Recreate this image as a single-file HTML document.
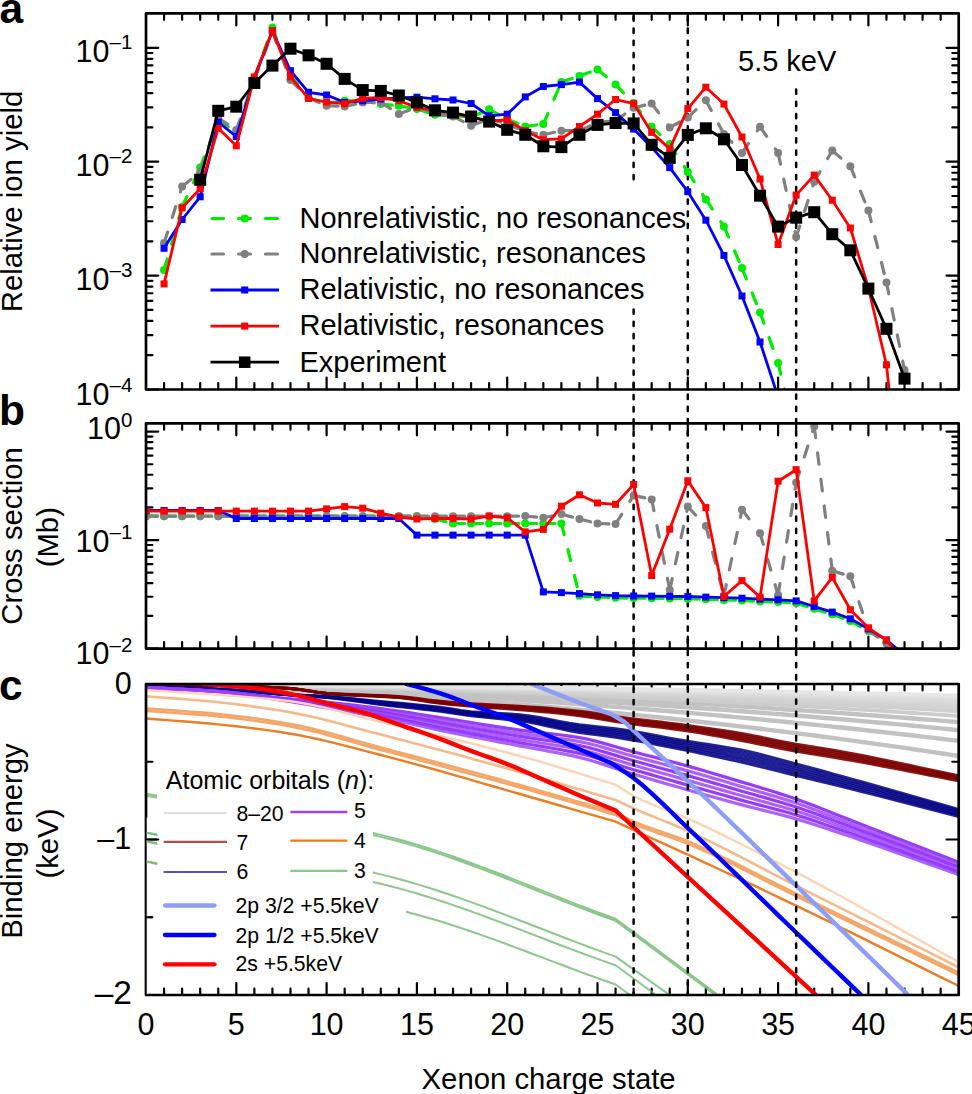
<!DOCTYPE html>
<html><head><meta charset="utf-8"><style>html,body{margin:0;padding:0;background:#fff;width:972px;height:1094px;overflow:hidden}</style></head>
<body>
<svg width="972" height="1094" viewBox="0 0 972 1094" style="position:absolute;left:0;top:0">
<defs>
<clipPath id="ca"><rect x="146" y="13.4" width="812.7" height="376.1"/></clipPath>
<clipPath id="cb"><rect x="146" y="423.3" width="812.7" height="225.3"/></clipPath>
<clipPath id="cc"><rect x="146" y="684" width="812.7" height="311"/></clipPath>
</defs>
<rect width="972" height="1094" fill="#fff"/>
<g stroke="#000" fill="none" stroke-width="2.2" stroke-linecap="round" stroke-linejoin="round"><path d="M164.06 684v6.4M164.06 995v-6.4M182.12 684v6.4M182.12 995v-6.4M200.18 684v6.4M200.18 995v-6.4M218.24 684v6.4M218.24 995v-6.4M236.3 684v12M236.3 995v-12M254.36 684v6.4M254.36 995v-6.4M272.42 684v6.4M272.42 995v-6.4M290.48 684v6.4M290.48 995v-6.4M308.54 684v6.4M308.54 995v-6.4M326.6 684v12M326.6 995v-12M344.66 684v6.4M344.66 995v-6.4M362.72 684v6.4M362.72 995v-6.4M380.78 684v6.4M380.78 995v-6.4M398.84 684v6.4M398.84 995v-6.4M416.9 684v12M416.9 995v-12M434.96 684v6.4M434.96 995v-6.4M453.02 684v6.4M453.02 995v-6.4M471.08 684v6.4M471.08 995v-6.4M489.14 684v6.4M489.14 995v-6.4M507.2 684v12M507.2 995v-12M525.26 684v6.4M525.26 995v-6.4M543.32 684v6.4M543.32 995v-6.4M561.38 684v6.4M561.38 995v-6.4M579.44 684v6.4M579.44 995v-6.4M597.5 684v12M597.5 995v-12M615.56 684v6.4M615.56 995v-6.4M633.62 684v6.4M633.62 995v-6.4M651.68 684v6.4M651.68 995v-6.4M669.74 684v6.4M669.74 995v-6.4M687.8 684v12M687.8 995v-12M705.86 684v6.4M705.86 995v-6.4M723.92 684v6.4M723.92 995v-6.4M741.98 684v6.4M741.98 995v-6.4M760.04 684v6.4M760.04 995v-6.4M778.1 684v12M778.1 995v-12M796.16 684v6.4M796.16 995v-6.4M814.22 684v6.4M814.22 995v-6.4M832.28 684v6.4M832.28 995v-6.4M850.34 684v6.4M850.34 995v-6.4M868.4 684v12M868.4 995v-12M886.46 684v6.4M886.46 995v-6.4M904.52 684v6.4M904.52 995v-6.4M922.58 684v6.4M922.58 995v-6.4M940.64 684v6.4M940.64 995v-6.4M146 684h12.2M958.7 684h-12.2M146 839.5h12.2M958.7 839.5h-12.2M146 995h12.2M958.7 995h-12.2M146 761.75h6.4M958.7 761.75h-6.4M146 917.25h6.4M958.7 917.25h-6.4"/></g>
<g clip-path="url(#cc)" fill="none" stroke-linejoin="round" stroke-linecap="butt">
<polyline points="146,685.3 155.03,685.53 164.06,685.74 173.09,685.96 182.12,686.18 191.15,686.41 200.18,686.66 209.21,686.93 218.24,687.22 227.27,687.52 236.3,687.84 245.33,688.16 254.36,688.5 263.39,688.85 272.42,689.22 281.45,689.6 290.48,689.99 299.51,690.4 308.54,690.82 317.57,691.25 326.6,691.69 335.63,692.15 344.66,692.63 353.69,693.11 362.72,693.61 371.75,694.12 380.78,694.65 389.81,695.19 398.84,695.74 407.87,696.31 416.9,696.89 425.93,697.48 434.96,698.08 443.99,698.7 453.02,699.34 462.05,699.98 471.08,700.64 480.11,701.31 489.14,702 498.17,702.7 507.2,703.41 516.23,704.14 525.26,704.87 534.29,705.62 543.32,706.39 552.35,707.17 561.38,707.96 570.41,708.77 579.44,709.59 588.47,710.42 597.5,711.26 606.53,712.12 615.56,713 624.59,713.88 633.62,714.78 642.65,715.69 651.68,716.61 660.71,717.55 669.74,718.51 678.77,719.47 687.8,720.45 696.83,721.44 705.86,722.45 714.89,723.46 723.92,724.5 732.95,725.54 741.98,726.6 751.01,727.67 760.04,728.76 769.07,729.85 778.1,730.97 787.13,732.09 796.16,733.23 805.19,734.38 814.22,735.55 823.25,736.72 832.28,737.92 841.31,739.12 850.34,740.34 859.37,741.57 868.4,742.81 877.43,744.07 886.46,745.34 895.49,746.63 904.52,747.93 913.55,749.24 922.58,750.58 931.61,751.93 940.64,753.29 949.67,754.64 958.7,755.99" stroke="rgb(194,194,194)" stroke-width="4.4"/>
<polyline points="146,685.03 155.03,685.21 164.06,685.38 173.09,685.55 182.12,685.72 191.15,685.91 200.18,686.1 209.21,686.32 218.24,686.54 227.27,686.78 236.3,687.03 245.33,687.29 254.36,687.56 263.39,687.83 272.42,688.12 281.45,688.42 290.48,688.73 299.51,689.06 308.54,689.39 317.57,689.73 326.6,690.08 335.63,690.44 344.66,690.82 353.69,691.2 362.72,691.59 371.75,692 380.78,692.41 389.81,692.84 398.84,693.28 407.87,693.73 416.9,694.18 425.93,694.65 434.96,695.13 443.99,695.62 453.02,696.12 462.05,696.63 471.08,697.15 480.11,697.68 489.14,698.22 498.17,698.77 507.2,699.34 516.23,699.91 525.26,700.49 534.29,701.09 543.32,701.69 552.35,702.31 561.38,702.93 570.41,703.57 579.44,704.22 588.47,704.87 597.5,705.54 606.53,706.22 615.56,706.91 624.59,707.61 633.62,708.32 642.65,709.04 651.68,709.77 660.71,710.51 669.74,711.26 678.77,712.03 687.8,712.8 696.83,713.58 705.86,714.38 714.89,715.18 723.92,716 732.95,716.82 741.98,717.66 751.01,718.51 760.04,719.36 769.07,720.23 778.1,721.11 787.13,722 796.16,722.9 805.19,723.81 814.22,724.73 823.25,725.66 832.28,726.6 841.31,727.55 850.34,728.51 859.37,729.49 868.4,730.47 877.43,731.46 886.46,732.47 895.49,733.48 904.52,734.51 913.55,735.55 922.58,736.61 931.61,737.67 940.64,738.74 949.67,739.82 958.7,740.88" stroke="rgb(194,194,194)" stroke-width="4.4"/>
<polyline points="146,684.83 155.03,684.98 164.06,685.11 173.09,685.25 182.12,685.4 191.15,685.54 200.18,685.7 209.21,685.88 218.24,686.06 227.27,686.25 236.3,686.45 245.33,686.66 254.36,686.88 263.39,687.1 272.42,687.34 281.45,687.58 290.48,687.83 299.51,688.1 308.54,688.36 317.57,688.64 326.6,688.92 335.63,689.22 344.66,689.52 353.69,689.83 362.72,690.15 371.75,690.48 380.78,690.81 389.81,691.16 398.84,691.52 407.87,691.88 416.9,692.25 425.93,692.63 434.96,693.01 443.99,693.41 453.02,693.82 462.05,694.23 471.08,694.65 480.11,695.08 489.14,695.52 498.17,695.97 507.2,696.42 516.23,696.89 525.26,697.36 534.29,697.84 543.32,698.33 552.35,698.83 561.38,699.34 570.41,699.85 579.44,700.38 588.47,700.91 597.5,701.45 606.53,702 615.56,702.56 624.59,703.12 633.62,703.7 642.65,704.28 651.68,704.87 660.71,705.47 669.74,706.08 678.77,706.7 687.8,707.33 696.83,707.96 705.86,708.61 714.89,709.26 723.92,709.92 732.95,710.59 741.98,711.26 751.01,711.95 760.04,712.64 769.07,713.35 778.1,714.06 787.13,714.78 796.16,715.51 805.19,716.24 814.22,716.99 823.25,717.74 832.28,718.51 841.31,719.28 850.34,720.06 859.37,720.84 868.4,721.64 877.43,722.45 886.46,723.26 895.49,724.08 904.52,724.91 913.55,725.76 922.58,726.61 931.61,727.47 940.64,728.34 949.67,729.21 958.7,730.08" stroke="rgb(194,194,194)" stroke-width="4.4"/>
<polyline points="146,684.69 155.03,684.81 164.06,684.92 173.09,685.04 182.12,685.15 191.15,685.28 200.18,685.41 209.21,685.55 218.24,685.7 227.27,685.86 236.3,686.03 245.33,686.2 254.36,686.38 263.39,686.57 272.42,686.76 281.45,686.96 290.48,687.17 299.51,687.38 308.54,687.61 317.57,687.83 326.6,688.07 335.63,688.31 344.66,688.56 353.69,688.82 362.72,689.08 371.75,689.35 380.78,689.63 389.81,689.92 398.84,690.21 407.87,690.51 416.9,690.82 425.93,691.13 434.96,691.45 443.99,691.78 453.02,692.11 462.05,692.45 471.08,692.8 480.11,693.16 489.14,693.52 498.17,693.89 507.2,694.27 516.23,694.65 525.26,695.04 534.29,695.44 543.32,695.84 552.35,696.26 561.38,696.67 570.41,697.1 579.44,697.53 588.47,697.97 597.5,698.42 606.53,698.87 615.56,699.34 624.59,699.8 633.62,700.28 642.65,700.76 651.68,701.25 660.71,701.75 669.74,702.25 678.77,702.76 687.8,703.28 696.83,703.8 705.86,704.33 714.89,704.87 723.92,705.42 732.95,705.97 741.98,706.53 751.01,707.1 760.04,707.67 769.07,708.25 778.1,708.84 787.13,709.44 796.16,710.04 805.19,710.65 814.22,711.26 823.25,711.89 832.28,712.52 841.31,713.15 850.34,713.8 859.37,714.45 868.4,715.11 877.43,715.77 886.46,716.45 895.49,717.13 904.52,717.81 913.55,718.51 922.58,719.22 931.61,719.93 940.64,720.65 949.67,721.37 958.7,722.08" stroke="rgb(194,194,194)" stroke-width="4.4"/>
<polyline points="146,684.58 155.03,684.68 164.06,684.77 173.09,684.87 182.12,684.97 191.15,685.07 200.18,685.18 209.21,685.3 218.24,685.43 227.27,685.56 236.3,685.7 245.33,685.85 254.36,686 263.39,686.16 272.42,686.32 281.45,686.49 290.48,686.66 299.51,686.84 308.54,687.03 317.57,687.22 326.6,687.42 335.63,687.62 344.66,687.83 353.69,688.05 362.72,688.27 371.75,688.5 380.78,688.73 389.81,688.97 398.84,689.22 407.87,689.47 416.9,689.73 425.93,689.99 434.96,690.26 443.99,690.53 453.02,690.82 462.05,691.1 471.08,691.4 480.11,691.69 489.14,692 498.17,692.31 507.2,692.63 516.23,692.95 525.26,693.28 534.29,693.61 543.32,693.95 552.35,694.3 561.38,694.65 570.41,695.01 579.44,695.37 588.47,695.74 597.5,696.12 606.53,696.5 615.56,696.89 624.59,697.28 633.62,697.68 642.65,698.08 651.68,698.5 660.71,698.91 669.74,699.34 678.77,699.77 687.8,700.2 696.83,700.64 705.86,701.09 714.89,701.54 723.92,702 732.95,702.46 741.98,702.93 751.01,703.41 760.04,703.89 769.07,704.38 778.1,704.87 787.13,705.37 796.16,705.88 805.19,706.39 814.22,706.91 823.25,707.43 832.28,707.96 841.31,708.5 850.34,709.04 859.37,709.59 868.4,710.14 877.43,710.7 886.46,711.26 895.49,711.84 904.52,712.41 913.55,713 922.58,713.59 931.61,714.19 940.64,714.79 949.67,715.4 958.7,716" stroke="rgb(204,204,204)" stroke-width="3.8"/>
<polyline points="146,684.49 155.03,684.58 164.06,684.66 173.09,684.74 182.12,684.83 191.15,684.91 200.18,685.01 209.21,685.11 218.24,685.22 227.27,685.33 236.3,685.45 245.33,685.58 254.36,685.7 263.39,685.84 272.42,685.98 281.45,686.12 290.48,686.27 299.51,686.42 308.54,686.58 317.57,686.74 326.6,686.91 335.63,687.09 344.66,687.27 353.69,687.45 362.72,687.64 371.75,687.83 380.78,688.03 389.81,688.24 398.84,688.45 407.87,688.66 416.9,688.88 425.93,689.1 434.96,689.33 443.99,689.57 453.02,689.81 462.05,690.05 471.08,690.3 480.11,690.56 489.14,690.82 498.17,691.08 507.2,691.35 516.23,691.63 525.26,691.9 534.29,692.19 543.32,692.48 552.35,692.77 561.38,693.07 570.41,693.38 579.44,693.69 588.47,694 597.5,694.32 606.53,694.65 615.56,694.98 624.59,695.32 633.62,695.66 642.65,696 651.68,696.35 660.71,696.71 669.74,697.07 678.77,697.43 687.8,697.8 696.83,698.18 705.86,698.56 714.89,698.95 723.92,699.34 732.95,699.73 741.98,700.13 751.01,700.54 760.04,700.95 769.07,701.37 778.1,701.79 787.13,702.21 796.16,702.64 805.19,703.08 814.22,703.52 823.25,703.97 832.28,704.42 841.31,704.87 850.34,705.34 859.37,705.8 868.4,706.27 877.43,706.75 886.46,707.23 895.49,707.72 904.52,708.21 913.55,708.71 922.58,709.21 931.61,709.72 940.64,710.24 949.67,710.75 958.7,711.26" stroke="rgb(207,207,207)" stroke-width="3.8"/>
<polyline points="146,684.43 155.03,684.5 164.06,684.57 173.09,684.64 182.12,684.71 191.15,684.79 200.18,684.87 209.21,684.96 218.24,685.05 227.27,685.15 236.3,685.25 245.33,685.36 254.36,685.47 263.39,685.58 272.42,685.7 281.45,685.83 290.48,685.96 299.51,686.09 308.54,686.23 317.57,686.37 326.6,686.51 335.63,686.66 344.66,686.82 353.69,686.98 362.72,687.14 371.75,687.31 380.78,687.48 389.81,687.65 398.84,687.83 407.87,688.02 416.9,688.21 425.93,688.4 434.96,688.6 443.99,688.8 453.02,689.01 462.05,689.22 471.08,689.43 480.11,689.65 489.14,689.88 498.17,690.11 507.2,690.34 516.23,690.58 525.26,690.82 534.29,691.06 543.32,691.31 552.35,691.57 561.38,691.82 570.41,692.09 579.44,692.35 588.47,692.63 597.5,692.9 606.53,693.18 615.56,693.47 624.59,693.76 633.62,694.05 642.65,694.35 651.68,694.65 660.71,694.96 669.74,695.27 678.77,695.58 687.8,695.9 696.83,696.23 705.86,696.55 714.89,696.89 723.92,697.22 732.95,697.56 741.98,697.91 751.01,698.26 760.04,698.61 769.07,698.97 778.1,699.34 787.13,699.7 796.16,700.07 805.19,700.45 814.22,700.83 823.25,701.22 832.28,701.61 841.31,702 850.34,702.4 859.37,702.8 868.4,703.2 877.43,703.62 886.46,704.03 895.49,704.45 904.52,704.87 913.55,705.3 922.58,705.74 931.61,706.18 940.64,706.62 949.67,707.07 958.7,707.51" stroke="rgb(210,210,210)" stroke-width="3.8"/>
<polyline points="146,684.37 155.03,684.43 164.06,684.5 173.09,684.56 182.12,684.62 191.15,684.69 200.18,684.76 209.21,684.83 218.24,684.92 227.27,685 236.3,685.09 245.33,685.18 254.36,685.28 263.39,685.38 272.42,685.48 281.45,685.59 290.48,685.7 299.51,685.82 308.54,685.94 317.57,686.06 326.6,686.19 335.63,686.32 344.66,686.45 353.69,686.59 362.72,686.73 371.75,686.88 380.78,687.03 389.81,687.18 398.84,687.34 407.87,687.5 416.9,687.67 425.93,687.83 434.96,688.01 443.99,688.18 453.02,688.36 462.05,688.55 471.08,688.73 480.11,688.92 489.14,689.12 498.17,689.32 507.2,689.52 516.23,689.73 525.26,689.94 534.29,690.15 543.32,690.37 552.35,690.59 561.38,690.82 570.41,691.05 579.44,691.28 588.47,691.51 597.5,691.75 606.53,692 615.56,692.25 624.59,692.5 633.62,692.75 642.65,693.01 651.68,693.28 660.71,693.54 669.74,693.82 678.77,694.09 687.8,694.37 696.83,694.65 705.86,694.94 714.89,695.23 723.92,695.52 732.95,695.82 741.98,696.12 751.01,696.42 760.04,696.73 769.07,697.04 778.1,697.36 787.13,697.68 796.16,698 805.19,698.33 814.22,698.66 823.25,699 832.28,699.34 841.31,699.68 850.34,700.03 859.37,700.38 868.4,700.73 877.43,701.09 886.46,701.45 895.49,701.81 904.52,702.18 913.55,702.56 922.58,702.94 931.61,703.32 940.64,703.71 949.67,704.09 958.7,704.48" stroke="rgb(213,213,213)" stroke-width="3.8"/>
<polyline points="146,684.33 155.03,684.38 164.06,684.44 173.09,684.49 182.12,684.54 191.15,684.6 200.18,684.67 209.21,684.73 218.24,684.8 227.27,684.88 236.3,684.96 245.33,685.04 254.36,685.12 263.39,685.21 272.42,685.3 281.45,685.4 290.48,685.5 299.51,685.6 308.54,685.7 317.57,685.81 326.6,685.92 335.63,686.04 344.66,686.16 353.69,686.28 362.72,686.4 371.75,686.53 380.78,686.66 389.81,686.8 398.84,686.94 407.87,687.08 416.9,687.22 425.93,687.37 434.96,687.52 443.99,687.68 453.02,687.83 462.05,688 471.08,688.16 480.11,688.33 489.14,688.5 498.17,688.67 507.2,688.85 516.23,689.03 525.26,689.22 534.29,689.41 543.32,689.6 552.35,689.79 561.38,689.99 570.41,690.19 579.44,690.4 588.47,690.6 597.5,690.82 606.53,691.03 615.56,691.25 624.59,691.47 633.62,691.69 642.65,691.92 651.68,692.15 660.71,692.39 669.74,692.63 678.77,692.87 687.8,693.11 696.83,693.36 705.86,693.61 714.89,693.87 723.92,694.12 732.95,694.39 741.98,694.65 751.01,694.92 760.04,695.19 769.07,695.46 778.1,695.74 787.13,696.02 796.16,696.31 805.19,696.6 814.22,696.89 823.25,697.18 832.28,697.48 841.31,697.78 850.34,698.08 859.37,698.39 868.4,698.7 877.43,699.02 886.46,699.34 895.49,699.66 904.52,699.98 913.55,700.31 922.58,700.64 931.61,700.98 940.64,701.32 949.67,701.66 958.7,702" stroke="rgb(217,217,217)" stroke-width="3.8"/>
<polyline points="146,684.29 155.03,684.34 164.06,684.39 173.09,684.43 182.12,684.48 191.15,684.53 200.18,684.59 209.21,684.65 218.24,684.71 227.27,684.78 236.3,684.85 245.33,684.92 254.36,685 263.39,685.07 272.42,685.16 281.45,685.24 290.48,685.33 299.51,685.42 308.54,685.51 317.57,685.6 326.6,685.7 335.63,685.81 344.66,685.91 353.69,686.02 362.72,686.13 371.75,686.24 380.78,686.36 389.81,686.48 398.84,686.6 407.87,686.73 416.9,686.85 425.93,686.98 434.96,687.12 443.99,687.26 453.02,687.4 462.05,687.54 471.08,687.69 480.11,687.83 489.14,687.99 498.17,688.14 507.2,688.3 516.23,688.46 525.26,688.62 534.29,688.79 543.32,688.96 552.35,689.13 561.38,689.31 570.41,689.49 579.44,689.67 588.47,689.85 597.5,690.04 606.53,690.23 615.56,690.42 624.59,690.62 633.62,690.82 642.65,691.02 651.68,691.22 660.71,691.43 669.74,691.64 678.77,691.86 687.8,692.07 696.83,692.29 705.86,692.51 714.89,692.74 723.92,692.97 732.95,693.2 741.98,693.43 751.01,693.67 760.04,693.91 769.07,694.15 778.1,694.4 787.13,694.65 796.16,694.9 805.19,695.16 814.22,695.41 823.25,695.68 832.28,695.94 841.31,696.21 850.34,696.48 859.37,696.75 868.4,697.02 877.43,697.3 886.46,697.58 895.49,697.87 904.52,698.16 913.55,698.45 922.58,698.74 931.61,699.04 940.64,699.34 949.67,699.64 958.7,699.94" stroke="rgb(220,220,220)" stroke-width="3.8"/>
<polyline points="146,684.26 155.03,684.3 164.06,684.34 173.09,684.39 182.12,684.43 191.15,684.48 200.18,684.53 209.21,684.58 218.24,684.64 227.27,684.7 236.3,684.76 245.33,684.82 254.36,684.89 263.39,684.96 272.42,685.03 281.45,685.11 290.48,685.18 299.51,685.26 308.54,685.35 317.57,685.43 326.6,685.52 335.63,685.61 344.66,685.7 353.69,685.8 362.72,685.9 371.75,686 380.78,686.1 389.81,686.21 398.84,686.32 407.87,686.43 416.9,686.55 425.93,686.66 434.96,686.78 443.99,686.9 453.02,687.03 462.05,687.16 471.08,687.29 480.11,687.42 489.14,687.56 498.17,687.69 507.2,687.83 516.23,687.98 525.26,688.12 534.29,688.27 543.32,688.42 552.35,688.58 561.38,688.73 570.41,688.89 579.44,689.05 588.47,689.22 597.5,689.39 606.53,689.56 615.56,689.73 624.59,689.9 633.62,690.08 642.65,690.26 651.68,690.44 660.71,690.63 669.74,690.82 678.77,691.01 687.8,691.2 696.83,691.4 705.86,691.59 714.89,691.8 723.92,692 732.95,692.21 741.98,692.41 751.01,692.63 760.04,692.84 769.07,693.06 778.1,693.28 787.13,693.5 796.16,693.72 805.19,693.95 814.22,694.18 823.25,694.41 832.28,694.65 841.31,694.89 850.34,695.13 859.37,695.37 868.4,695.62 877.43,695.87 886.46,696.12 895.49,696.37 904.52,696.63 913.55,696.89 922.58,697.15 931.61,697.42 940.64,697.69 949.67,697.95 958.7,698.22" stroke="rgb(223,223,223)" stroke-width="3.8"/>
<polyline points="146,684.23 155.03,684.27 164.06,684.31 173.09,684.35 182.12,684.39 191.15,684.43 200.18,684.47 209.21,684.52 218.24,684.57 227.27,684.62 236.3,684.68 245.33,684.74 254.36,684.8 263.39,684.86 272.42,684.92 281.45,684.99 290.48,685.06 299.51,685.13 308.54,685.21 317.57,685.28 326.6,685.36 335.63,685.45 344.66,685.53 353.69,685.62 362.72,685.7 371.75,685.79 380.78,685.89 389.81,685.98 398.84,686.08 407.87,686.18 416.9,686.28 425.93,686.39 434.96,686.5 443.99,686.61 453.02,686.72 462.05,686.83 471.08,686.95 480.11,687.07 489.14,687.19 498.17,687.31 507.2,687.44 516.23,687.57 525.26,687.7 534.29,687.83 543.32,687.97 552.35,688.11 561.38,688.25 570.41,688.39 579.44,688.54 588.47,688.68 597.5,688.83 606.53,688.99 615.56,689.14 624.59,689.3 633.62,689.46 642.65,689.62 651.68,689.78 660.71,689.95 669.74,690.12 678.77,690.29 687.8,690.46 696.83,690.64 705.86,690.82 714.89,691 723.92,691.18 732.95,691.36 741.98,691.55 751.01,691.74 760.04,691.93 769.07,692.13 778.1,692.33 787.13,692.53 796.16,692.73 805.19,692.93 814.22,693.14 823.25,693.35 832.28,693.56 841.31,693.77 850.34,693.99 859.37,694.21 868.4,694.43 877.43,694.65 886.46,694.88 895.49,695.1 904.52,695.33 913.55,695.57 922.58,695.8 931.61,696.04 940.64,696.28 949.67,696.52 958.7,696.76" stroke="rgb(226,226,226)" stroke-width="3.8"/>
<polyline points="146,684.21 155.03,684.24 164.06,684.28 173.09,684.31 182.12,684.35 191.15,684.39 200.18,684.43 209.21,684.47 218.24,684.51 227.27,684.56 236.3,684.61 245.33,684.67 254.36,684.72 263.39,684.78 272.42,684.83 281.45,684.9 290.48,684.96 299.51,685.02 308.54,685.09 317.57,685.16 326.6,685.23 335.63,685.3 344.66,685.38 353.69,685.46 362.72,685.54 371.75,685.62 380.78,685.7 389.81,685.79 398.84,685.88 407.87,685.97 416.9,686.06 425.93,686.16 434.96,686.25 443.99,686.35 453.02,686.45 462.05,686.56 471.08,686.66 480.11,686.77 489.14,686.88 498.17,686.99 507.2,687.11 516.23,687.22 525.26,687.34 534.29,687.46 543.32,687.58 552.35,687.71 561.38,687.83 570.41,687.96 579.44,688.09 588.47,688.23 597.5,688.36 606.53,688.5 615.56,688.64 624.59,688.78 633.62,688.92 642.65,689.07 651.68,689.22 660.71,689.37 669.74,689.52 678.77,689.68 687.8,689.83 696.83,689.99 705.86,690.15 714.89,690.31 723.92,690.48 732.95,690.65 741.98,690.82 751.01,690.99 760.04,691.16 769.07,691.34 778.1,691.51 787.13,691.69 796.16,691.88 805.19,692.06 814.22,692.25 823.25,692.44 832.28,692.63 841.31,692.82 850.34,693.01 859.37,693.21 868.4,693.41 877.43,693.61 886.46,693.82 895.49,694.02 904.52,694.23 913.55,694.44 922.58,694.65 931.61,694.87 940.64,695.09 949.67,695.3 958.7,695.52" stroke="rgb(230,230,230)" stroke-width="3.8"/>
<polyline points="146,684.5 155.03,684.63 164.06,684.75 173.09,684.87 182.12,684.99 191.15,685.11 200.18,685.26 209.21,685.42 218.24,685.6 227.27,685.81 236.3,686.06 245.33,686.34 254.36,686.67 263.39,687.04 272.42,687.47 281.45,687.95 290.48,688.5 299.51,689.42 308.54,690.74 317.57,692.08 326.6,693.05 335.63,693.63 344.66,694.09 353.69,694.47 362.72,694.8 371.75,695.13 380.78,695.5 389.81,695.94 398.84,696.5 409.22,697.46 419.61,698.73 429.99,700.06 440.38,701.2 450.61,702.11 460.85,702.94 471.08,703.65 480.83,704.21 490.58,704.68 500.34,705.13 510.09,705.6 519.84,706.15 529.77,706.79 539.71,707.49 549.64,708.25 559.57,709.09 569.51,710.02 579.44,711.05 588.47,712.22 597.5,713.65 606.53,715.14 615.56,716.5 624.59,717.69 633.62,718.81 642.65,719.89 651.68,720.94 660.71,721.98 669.74,723.05 678.77,724.17 687.8,725.35 698.27,726.79 708.75,728.29 719.22,729.84 729.7,731.48 740.17,733.2 749.5,734.87 758.84,736.69 768.17,738.59 777.5,740.5 786.83,742.36 796.16,744.1 805.55,745.7 814.94,747.2 824.33,748.67 833.72,750.18 843.12,751.8 852.75,753.57 862.38,755.42 872.01,757.34 881.64,759.31 891.28,761.32 900.91,763.36 910.54,765.43 920.17,767.5 929.8,769.58 939.44,771.64 949.07,773.69 958.7,775.7" stroke="rgba(125,0,0,0.9)" stroke-width="2.8"/>
<polyline points="146,684.5 155.03,684.63 164.06,684.75 173.09,684.87 182.12,684.99 191.15,685.11 200.18,685.26 209.21,685.42 218.24,685.6 227.27,685.81 236.3,686.06 245.33,686.34 254.36,686.66 263.39,687.03 272.42,687.46 281.45,687.95 290.48,688.5 299.51,689.44 308.54,690.82 317.57,692.21 326.6,693.23 335.63,693.83 344.66,694.31 353.69,694.69 362.72,695.04 371.75,695.38 380.78,695.76 389.81,696.22 398.84,696.8 409.22,697.81 419.61,699.15 429.99,700.55 440.38,701.75 450.61,702.71 460.85,703.57 471.08,704.33 480.83,704.93 490.58,705.46 500.34,705.95 510.09,706.47 519.84,707.08 529.77,707.77 539.71,708.51 549.64,709.31 559.57,710.19 569.51,711.15 579.44,712.23 588.47,713.44 597.5,714.9 606.53,716.41 615.56,717.8 624.59,719.01 633.62,720.15 642.65,721.23 651.68,722.29 660.71,723.34 669.74,724.43 678.77,725.56 687.8,726.78 698.27,728.28 708.75,729.85 719.22,731.5 729.7,733.21 740.17,735 749.5,736.7 758.84,738.53 768.17,740.42 777.5,742.32 786.83,744.17 796.16,745.9 805.55,747.5 814.94,749.01 824.33,750.48 833.72,751.99 843.12,753.6 852.75,755.36 862.38,757.18 872.01,759.06 881.64,760.99 891.28,762.96 900.91,764.95 910.54,766.97 920.17,769 929.8,771.02 939.44,773.04 949.07,775.03 958.7,777" stroke="rgba(125,0,0,0.9)" stroke-width="2.8"/>
<polyline points="146,684.5 155.03,684.63 164.06,684.75 173.09,684.87 182.12,684.99 191.15,685.11 200.18,685.26 209.21,685.42 218.24,685.6 227.27,685.81 236.3,686.05 245.33,686.33 254.36,686.65 263.39,687.02 272.42,687.45 281.45,687.94 290.48,688.5 299.51,689.47 308.54,690.89 317.57,692.35 326.6,693.4 335.63,694.03 344.66,694.52 353.69,694.92 362.72,695.27 371.75,695.63 380.78,696.02 389.81,696.5 398.84,697.1 409.22,698.15 419.61,699.56 429.99,701.04 440.38,702.3 450.61,703.3 460.85,704.2 471.08,705 480.83,705.66 490.58,706.23 500.34,706.78 510.09,707.35 519.84,708 529.77,708.74 539.71,709.52 549.64,710.37 559.57,711.28 569.51,712.29 579.44,713.4 588.47,714.65 597.5,716.14 606.53,717.69 615.56,719.1 624.59,720.33 633.62,721.48 642.65,722.57 651.68,723.63 660.71,724.7 669.74,725.8 678.77,726.96 687.8,728.2 698.27,729.76 708.75,731.42 719.22,733.15 729.7,734.95 740.17,736.8 749.5,738.53 758.84,740.37 768.17,742.25 777.5,744.14 786.83,745.97 796.16,747.7 805.55,749.3 814.94,750.81 824.33,752.29 833.72,753.8 843.12,755.4 852.75,757.14 862.38,758.94 872.01,760.78 881.64,762.67 891.28,764.6 900.91,766.55 910.54,768.51 920.17,770.49 929.8,772.46 939.44,774.43 949.07,776.38 958.7,778.3" stroke="rgba(125,0,0,0.9)" stroke-width="2.8"/>
<polyline points="146,684.5 155.03,684.63 164.06,684.75 173.09,684.87 182.12,684.99 191.15,685.11 200.18,685.26 209.21,685.42 218.24,685.6 227.27,685.81 236.3,686.05 245.33,686.33 254.36,686.65 263.39,687.02 272.42,687.45 281.45,687.94 290.48,688.5 299.51,689.49 308.54,690.97 317.57,692.48 326.6,693.57 335.63,694.22 344.66,694.73 353.69,695.14 362.72,695.51 371.75,695.87 380.78,696.28 389.81,696.77 398.84,697.4 409.22,698.5 419.61,699.98 429.99,701.52 440.38,702.85 450.61,703.89 460.85,704.83 471.08,705.67 480.83,706.38 490.58,707 500.34,707.6 510.09,708.22 519.84,708.92 529.77,709.71 539.71,710.54 549.64,711.42 559.57,712.38 569.51,713.42 579.44,714.57 588.47,715.86 597.5,717.39 606.53,718.96 615.56,720.4 624.59,721.65 633.62,722.81 642.65,723.91 651.68,724.98 660.71,726.06 669.74,727.17 678.77,728.35 687.8,729.62 698.27,731.24 708.75,732.98 719.22,734.81 729.7,736.69 740.17,738.6 749.5,740.36 758.84,742.2 768.17,744.08 777.5,745.96 786.83,747.78 796.16,749.5 805.55,751.1 814.94,752.62 824.33,754.1 833.72,755.61 843.12,757.2 852.75,758.92 862.38,760.69 872.01,762.5 881.64,764.35 891.28,766.23 900.91,768.14 910.54,770.05 920.17,771.98 929.8,773.9 939.44,775.82 949.07,777.72 958.7,779.6" stroke="rgba(125,0,0,0.9)" stroke-width="2.8"/>
<polyline points="146,684.5 155.03,684.63 164.06,684.75 173.09,684.87 182.12,684.99 191.15,685.11 200.18,685.26 209.21,685.42 218.24,685.6 227.27,685.81 236.3,686.05 245.33,686.32 254.36,686.64 263.39,687.01 272.42,687.44 281.45,687.93 290.48,688.5 299.51,689.52 308.54,691.05 317.57,692.62 326.6,693.75 335.63,694.42 344.66,694.94 353.69,695.37 362.72,695.75 371.75,696.12 380.78,696.54 389.81,697.05 398.84,697.7 409.22,698.85 419.61,700.39 429.99,702.01 440.38,703.4 450.61,704.49 460.85,705.46 471.08,706.35 480.83,707.1 490.58,707.78 500.34,708.43 510.09,709.1 519.84,709.85 529.77,710.68 539.71,711.55 549.64,712.48 559.57,713.47 569.51,714.56 579.44,715.75 588.47,717.07 597.5,718.63 606.53,720.24 615.56,721.7 624.59,722.97 633.62,724.14 642.65,725.25 651.68,726.34 660.71,727.42 669.74,728.55 678.77,729.75 687.8,731.05 698.27,732.72 708.75,734.55 719.22,736.47 729.7,738.43 740.17,740.4 749.5,742.18 758.84,744.03 768.17,745.91 777.5,747.77 786.83,749.58 796.16,751.3 805.55,752.91 814.94,754.43 824.33,755.91 833.72,757.42 843.12,759 852.75,760.7 862.38,762.44 872.01,764.22 881.64,766.04 891.28,767.87 900.91,769.73 910.54,771.59 920.17,773.47 929.8,775.34 939.44,777.21 949.07,779.06 958.7,780.9" stroke="rgba(125,0,0,0.9)" stroke-width="2.8"/>
<polyline points="146,686.5 155.03,686.83 164.06,687.13 173.09,687.44 182.12,687.74 191.15,688.06 200.18,688.4 209.21,688.78 218.24,689.2 227.27,689.71 236.3,690.32 245.33,691 254.36,691.72 263.39,692.46 272.42,693.18 281.45,693.85 290.48,694.45 299.51,694.95 308.54,695.4 317.57,695.86 326.6,696.4 335.63,697.07 344.66,697.85 353.69,698.71 362.72,699.61 371.75,700.52 380.78,701.4 390.71,702.32 400.65,703.21 410.58,704.11 420.51,705.06 430.44,706.08 440.38,707.2 450.61,708.71 460.85,710.4 471.08,711.7 480.83,712.43 490.58,712.97 500.34,713.44 510.09,713.97 519.84,714.7 529.77,715.87 539.71,717.48 549.64,719.36 559.57,721.3 569.51,723.13 579.44,724.65 588.47,725.72 597.5,726.64 606.53,727.58 615.56,728.65 624.59,729.94 633.62,731.4 642.65,732.97 651.68,734.63 660.71,736.33 669.74,738.03 678.77,739.68 687.8,741.25 698.27,742.92 708.75,744.5 719.22,746.08 729.7,747.78 740.17,749.7 749.5,751.69 758.84,753.94 768.17,756.37 777.5,758.9 786.83,761.45 796.16,763.95 805.55,766.43 814.94,768.94 824.33,771.47 833.72,774.03 843.12,776.6 852.75,779.26 862.38,781.94 872.01,784.64 881.64,787.35 891.28,790.08 900.91,792.82 910.54,795.56 920.17,798.3 929.8,801.05 939.44,803.79 949.07,806.52 958.7,809.25" stroke="rgba(5,5,135,0.88)" stroke-width="2.8"/>
<polyline points="146,686.5 155.03,686.83 164.06,687.14 173.09,687.45 182.12,687.76 191.15,688.08 200.18,688.43 209.21,688.81 218.24,689.24 227.27,689.75 236.3,690.37 245.33,691.06 254.36,691.8 263.39,692.55 272.42,693.28 281.45,693.97 290.48,694.59 299.51,695.11 308.54,695.58 317.57,696.07 326.6,696.64 335.63,697.36 344.66,698.21 353.69,699.14 362.72,700.12 371.75,701.1 380.78,702.04 390.71,703.01 400.65,703.94 410.58,704.88 420.51,705.85 430.44,706.89 440.38,708.04 450.61,709.54 460.85,711.21 471.08,712.54 480.83,713.35 490.58,713.96 500.34,714.51 510.09,715.13 519.84,715.94 529.77,717.19 539.71,718.87 549.64,720.8 559.57,722.79 569.51,724.67 579.44,726.23 588.47,727.34 597.5,728.31 606.53,729.28 615.56,730.39 624.59,731.71 633.62,733.18 642.65,734.76 651.68,736.43 660.71,738.14 669.74,739.85 678.77,741.53 687.8,743.15 698.27,744.91 708.75,746.6 719.22,748.31 729.7,750.13 740.17,752.14 749.5,754.18 758.84,756.43 768.17,758.83 777.5,761.32 786.83,763.83 796.16,766.29 805.55,768.73 814.94,771.18 824.33,773.66 833.72,776.16 843.12,778.68 852.75,781.29 862.38,783.92 872.01,786.56 881.64,789.22 891.28,791.9 900.91,794.58 910.54,797.27 920.17,799.97 929.8,802.66 939.44,805.35 949.07,808.04 958.7,810.71" stroke="rgba(5,5,135,0.88)" stroke-width="2.8"/>
<polyline points="146,686.5 155.03,686.84 164.06,687.15 173.09,687.46 182.12,687.78 191.15,688.11 200.18,688.46 209.21,688.85 218.24,689.28 227.27,689.8 236.3,690.43 245.33,691.13 254.36,691.87 263.39,692.63 272.42,693.38 281.45,694.09 290.48,694.73 299.51,695.27 308.54,695.76 317.57,696.27 326.6,696.88 335.63,697.65 344.66,698.56 353.69,699.57 362.72,700.63 371.75,701.68 380.78,702.68 390.71,703.7 400.65,704.67 410.58,705.64 420.51,706.64 430.44,707.71 440.38,708.88 450.61,710.37 460.85,712.02 471.08,713.38 480.83,714.26 490.58,714.95 500.34,715.58 510.09,716.28 519.84,717.18 529.77,718.51 539.71,720.26 549.64,722.24 559.57,724.28 569.51,726.2 579.44,727.81 588.47,728.96 597.5,729.97 606.53,730.98 615.56,732.13 624.59,733.48 633.62,734.96 642.65,736.56 651.68,738.23 660.71,739.94 669.74,741.67 678.77,743.39 687.8,745.05 698.27,746.9 708.75,748.71 719.22,750.54 729.7,752.48 740.17,754.58 749.5,756.66 758.84,758.91 768.17,761.3 777.5,763.75 786.83,766.21 796.16,768.63 805.55,771.03 814.94,773.43 824.33,775.85 833.72,778.29 843.12,780.76 852.75,783.31 862.38,785.89 872.01,788.49 881.64,791.1 891.28,793.72 900.91,796.35 910.54,798.99 920.17,801.63 929.8,804.28 939.44,806.91 949.07,809.55 958.7,812.17" stroke="rgba(5,5,135,0.88)" stroke-width="2.8"/>
<polyline points="146,686.5 155.03,686.84 164.06,687.16 173.09,687.48 182.12,687.8 191.15,688.13 200.18,688.49 209.21,688.88 218.24,689.32 227.27,689.85 236.3,690.48 245.33,691.19 254.36,691.95 263.39,692.72 272.42,693.49 281.45,694.21 290.48,694.87 299.51,695.43 308.54,695.94 317.57,696.48 326.6,697.12 335.63,697.94 344.66,698.92 353.69,700.01 362.72,701.14 371.75,702.26 380.78,703.32 390.71,704.38 400.65,705.4 410.58,706.41 420.51,707.44 430.44,708.53 440.38,709.72 450.61,711.21 460.85,712.84 471.08,714.22 480.83,715.17 490.58,715.93 500.34,716.65 510.09,717.43 519.84,718.42 529.77,719.83 539.71,721.64 549.64,723.68 559.57,725.77 569.51,727.73 579.44,729.39 588.47,730.59 597.5,731.64 606.53,732.68 615.56,733.87 624.59,735.24 633.62,736.75 642.65,738.35 651.68,740.03 660.71,741.75 669.74,743.5 678.77,745.24 687.8,746.95 698.27,748.89 708.75,750.81 719.22,752.78 729.7,754.83 740.17,757.02 749.5,759.13 758.84,761.39 768.17,763.76 777.5,766.17 786.83,768.59 796.16,770.97 805.55,773.32 814.94,775.68 824.33,778.05 833.72,780.43 843.12,782.84 852.75,785.34 862.38,787.87 872.01,790.41 881.64,792.97 891.28,795.54 900.91,798.12 910.54,800.71 920.17,803.3 929.8,805.89 939.44,808.48 949.07,811.06 958.7,813.63" stroke="rgba(5,5,135,0.88)" stroke-width="2.8"/>
<polyline points="146,686.5 155.03,686.84 164.06,687.17 173.09,687.49 182.12,687.81 191.15,688.15 200.18,688.51 209.21,688.91 218.24,689.36 227.27,689.9 236.3,690.54 245.33,691.26 254.36,692.02 263.39,692.81 272.42,693.59 281.45,694.33 290.48,695.01 299.51,695.59 308.54,696.13 317.57,696.69 326.6,697.36 335.63,698.22 344.66,699.27 353.69,700.44 362.72,701.65 371.75,702.85 380.78,703.96 390.71,705.07 400.65,706.13 410.58,707.17 420.51,708.23 430.44,709.35 440.38,710.56 450.61,712.04 460.85,713.65 471.08,715.06 480.83,716.07 490.58,716.92 500.34,717.71 510.09,718.59 519.84,719.66 529.77,721.15 539.71,723.03 549.64,725.12 559.57,727.26 569.51,729.26 579.44,730.97 588.47,732.21 597.5,733.3 606.53,734.39 615.56,735.61 624.59,737.01 633.62,738.53 642.65,740.14 651.68,741.83 660.71,743.56 669.74,745.32 678.77,747.09 687.8,748.85 698.27,750.87 708.75,752.92 719.22,755.02 729.7,757.19 740.17,759.46 749.5,761.61 758.84,763.87 768.17,766.21 777.5,768.59 786.83,770.97 796.16,773.31 805.55,775.62 814.94,777.93 824.33,780.24 833.72,782.56 843.12,784.92 852.75,787.37 862.38,789.84 872.01,792.33 881.64,794.84 891.28,797.36 900.91,799.89 910.54,802.43 920.17,804.96 929.8,807.5 939.44,810.04 949.07,812.57 958.7,815.09" stroke="rgba(5,5,135,0.88)" stroke-width="2.8"/>
<polyline points="146,686.5 155.03,686.85 164.06,687.18 173.09,687.5 182.12,687.83 191.15,688.17 200.18,688.54 209.21,688.95 218.24,689.4 227.27,689.94 236.3,690.59 245.33,691.32 254.36,692.1 263.39,692.9 272.42,693.69 281.45,694.45 290.48,695.15 299.51,695.75 308.54,696.31 317.57,696.9 326.6,697.6 335.63,698.51 344.66,699.63 353.69,700.87 362.72,702.16 371.75,703.43 380.78,704.6 390.71,705.76 400.65,706.86 410.58,707.93 420.51,709.02 430.44,710.17 440.38,711.4 450.61,712.88 460.85,714.47 471.08,715.9 480.83,716.98 490.58,717.9 500.34,718.78 510.09,719.74 519.84,720.9 529.77,722.47 539.71,724.41 549.64,726.56 559.57,728.74 569.51,730.8 579.44,732.55 588.47,733.83 597.5,734.97 606.53,736.09 615.56,737.35 624.59,738.78 633.62,740.31 642.65,741.94 651.68,743.63 660.71,745.37 669.74,747.15 678.77,748.95 687.8,750.75 698.27,752.86 708.75,755.03 719.22,757.26 729.7,759.55 740.17,761.9 749.5,764.08 758.84,766.34 768.17,768.67 777.5,771.01 786.83,773.35 796.16,775.65 805.55,777.92 814.94,780.18 824.33,782.43 833.72,784.7 843.12,787 852.75,789.4 862.38,791.82 872.01,794.26 881.64,796.71 891.28,799.18 900.91,801.66 910.54,804.14 920.17,806.63 929.8,809.12 939.44,811.6 949.07,814.08 958.7,816.55" stroke="rgba(5,5,135,0.88)" stroke-width="2.8"/>
<polyline points="146,687.4 155.03,687.88 164.06,688.33 173.09,688.77 182.12,689.22 191.15,689.69 200.18,690.19 209.21,690.74 218.24,691.35 227.27,692.08 236.3,692.94 245.33,693.9 254.36,694.92 263.39,695.96 272.42,697 281.45,697.99 290.48,698.9 299.51,699.71 308.54,700.47 317.57,701.25 326.6,702.1 335.63,703.05 344.66,704.06 353.69,705.13 362.72,706.25 371.75,707.41 380.78,708.6 390.71,709.97 400.65,711.43 410.58,712.95 420.51,714.5 430.44,716.06 440.38,717.6 450.31,719.16 460.24,720.76 470.18,722.38 480.11,724 490.04,725.6 499.98,727.17 509.91,728.67 519.84,730.1 529.77,731.38 539.71,732.52 549.64,733.61 559.57,734.76 569.51,736.06 579.44,737.6 588.47,739.4 597.5,741.61 606.53,744.1 615.56,746.73 624.59,749.36 633.62,751.85 642.65,754.21 651.68,756.54 660.71,758.87 669.74,761.23 678.77,763.63 687.8,766.1 696.83,768.65 705.86,771.26 714.89,773.92 723.92,776.63 732.95,779.36 741.98,782.1 751.01,784.83 760.04,787.55 769.07,790.31 778.1,793.12 787.13,796.04 796.16,799.1 805.55,802.5 814.94,806.11 824.33,809.83 833.72,813.59 843.12,817.3 852.75,821.04 862.38,824.79 872.01,828.54 881.64,832.3 891.28,836.05 900.91,839.81 910.54,843.56 920.17,847.32 929.8,851.08 939.44,854.84 949.07,858.59 958.7,862.35" stroke="rgba(140,40,250,0.9)" stroke-width="3.2"/>
<polyline points="146,687.4 155.03,687.88 164.06,688.34 173.09,688.79 182.12,689.24 191.15,689.71 200.18,690.22 209.21,690.78 218.24,691.41 227.27,692.16 236.3,693.06 245.33,694.06 254.36,695.13 263.39,696.24 272.42,697.36 281.45,698.44 290.48,699.46 299.51,700.41 308.54,701.32 317.57,702.26 326.6,703.26 335.63,704.33 344.66,705.45 353.69,706.61 362.72,707.82 371.75,709.07 380.78,710.36 390.71,711.86 400.65,713.46 410.58,715.12 420.51,716.81 430.44,718.5 440.38,720.16 450.31,721.81 460.24,723.49 470.18,725.17 480.11,726.85 490.04,728.51 499.98,730.15 509.91,731.73 519.84,733.26 529.77,734.66 539.71,735.92 549.64,737.15 559.57,738.44 569.51,739.88 579.44,741.56 588.47,743.47 597.5,745.79 606.53,748.36 615.56,751.06 624.59,753.75 633.62,756.31 642.65,758.73 651.68,761.13 660.71,763.52 669.74,765.93 678.77,768.37 687.8,770.86 696.83,773.41 705.86,776.01 714.89,778.64 723.92,781.3 732.95,783.98 741.98,786.66 751.01,789.32 760.04,791.95 769.07,794.6 778.1,797.31 787.13,800.11 796.16,803.06 805.55,806.34 814.94,809.82 824.33,813.42 833.72,817.06 843.12,820.66 852.75,824.31 862.38,827.96 872.01,831.63 881.64,835.31 891.28,838.99 900.91,842.68 910.54,846.37 920.17,850.06 929.8,853.75 939.44,857.44 949.07,861.13 958.7,864.81" stroke="rgba(155,70,250,0.85)" stroke-width="3.2"/>
<polyline points="146,687.4 155.03,687.89 164.06,688.35 173.09,688.8 182.12,689.25 191.15,689.73 200.18,690.25 209.21,690.82 218.24,691.47 227.27,692.25 236.3,693.17 245.33,694.22 254.36,695.35 263.39,696.53 272.42,697.72 281.45,698.9 290.48,700.02 299.51,701.1 308.54,702.17 317.57,703.27 326.6,704.42 335.63,705.61 344.66,706.83 353.69,708.09 362.72,709.38 371.75,710.72 380.78,712.12 390.71,713.75 400.65,715.49 410.58,717.29 420.51,719.12 430.44,720.94 440.38,722.72 450.31,724.47 460.24,726.22 470.18,727.97 480.11,729.71 490.04,731.43 499.98,733.13 509.91,734.79 519.84,736.42 529.77,737.93 539.71,739.33 549.64,740.69 559.57,742.12 569.51,743.7 579.44,745.52 588.47,747.55 597.5,749.96 606.53,752.61 615.56,755.39 624.59,758.15 633.62,760.77 642.65,763.26 651.68,765.72 660.71,768.17 669.74,770.63 678.77,773.11 687.8,775.62 696.83,778.17 705.86,780.76 714.89,783.36 723.92,785.98 732.95,788.6 741.98,791.22 751.01,793.8 760.04,796.34 769.07,798.89 778.1,801.49 787.13,804.18 796.16,807.02 805.55,810.18 814.94,813.54 824.33,817.01 833.72,820.53 843.12,824.02 852.75,827.57 862.38,831.13 872.01,834.72 881.64,838.32 891.28,841.93 900.91,845.54 910.54,849.17 920.17,852.79 929.8,856.42 939.44,860.04 949.07,863.66 958.7,867.27" stroke="rgba(140,40,250,0.9)" stroke-width="3.2"/>
<polyline points="146,687.4 155.03,687.9 164.06,688.36 173.09,688.81 182.12,689.27 191.15,689.76 200.18,690.28 209.21,690.87 218.24,691.53 227.27,692.33 236.3,693.29 245.33,694.38 254.36,695.57 263.39,696.82 272.42,698.09 281.45,699.35 290.48,700.58 299.51,701.79 308.54,703.02 317.57,704.29 326.6,705.58 335.63,706.89 344.66,708.21 353.69,709.56 362.72,710.95 371.75,712.38 380.78,713.88 390.71,715.64 400.65,717.52 410.58,719.46 420.51,721.43 430.44,723.39 440.38,725.28 450.31,727.12 460.24,728.95 470.18,730.76 480.11,732.56 490.04,734.35 499.98,736.11 509.91,737.86 519.84,739.58 529.77,741.21 539.71,742.73 549.64,744.23 559.57,745.8 569.51,747.52 579.44,749.48 588.47,751.62 597.5,754.12 606.53,756.86 615.56,759.71 624.59,762.54 633.62,765.23 642.65,767.79 651.68,770.31 660.71,772.83 669.74,775.33 678.77,777.85 687.8,780.38 696.83,782.93 705.86,785.5 714.89,788.08 723.92,790.65 732.95,793.22 741.98,795.78 751.01,798.29 760.04,800.74 769.07,803.18 778.1,805.67 787.13,808.25 796.16,810.98 805.55,814.03 814.94,817.26 824.33,820.6 833.72,824 843.12,827.38 852.75,830.83 862.38,834.3 872.01,837.81 881.64,841.33 891.28,844.86 900.91,848.41 910.54,851.97 920.17,855.53 929.8,859.09 939.44,862.64 949.07,866.19 958.7,869.73" stroke="rgba(155,70,250,0.85)" stroke-width="3.2"/>
<polyline points="146,687.4 155.03,687.9 164.06,688.37 173.09,688.83 182.12,689.29 191.15,689.78 200.18,690.31 209.21,690.91 218.24,691.59 227.27,692.42 236.3,693.41 245.33,694.55 254.36,695.79 263.39,697.11 272.42,698.46 281.45,699.81 290.48,701.14 299.51,702.48 308.54,703.87 317.57,705.3 326.6,706.74 335.63,708.17 344.66,709.6 353.69,711.04 362.72,712.51 371.75,714.04 380.78,715.64 390.71,717.53 400.65,719.54 410.58,721.63 420.51,723.75 430.44,725.83 440.38,727.84 450.31,729.77 460.24,731.68 470.18,733.56 480.11,735.42 490.04,737.26 499.98,739.09 509.91,740.92 519.84,742.74 529.77,744.49 539.71,746.14 549.64,747.78 559.57,749.48 569.51,751.34 579.44,753.44 588.47,755.69 597.5,758.29 606.53,761.11 615.56,764.04 624.59,766.94 633.62,769.69 642.65,772.31 651.68,774.91 660.71,777.48 669.74,780.04 678.77,782.59 687.8,785.14 696.83,787.69 705.86,790.25 714.89,792.79 723.92,795.33 732.95,797.84 741.98,800.34 751.01,802.77 760.04,805.13 769.07,807.47 778.1,809.85 787.13,812.32 796.16,814.94 805.55,817.87 814.94,820.97 824.33,824.19 833.72,827.47 843.12,830.74 852.75,834.09 862.38,837.47 872.01,840.89 881.64,844.33 891.28,847.8 900.91,851.28 910.54,854.77 920.17,858.26 929.8,861.76 939.44,865.25 949.07,868.73 958.7,872.19" stroke="rgba(140,40,250,0.9)" stroke-width="3.2"/>
<polyline points="146,687.4 155.03,687.91 164.06,688.38 173.09,688.84 182.12,689.31 191.15,689.8 200.18,690.35 209.21,690.95 218.24,691.65 227.27,692.5 236.3,693.53 245.33,694.72 254.36,696.02 263.39,697.4 272.42,698.83 281.45,700.27 290.48,701.7 299.51,703.17 308.54,704.72 317.57,706.31 326.6,707.9 335.63,709.45 344.66,710.98 353.69,712.51 362.72,714.07 371.75,715.7 380.78,717.4 390.71,719.42 400.65,721.57 410.58,723.81 420.51,726.06 430.44,728.28 440.38,730.4 450.31,732.43 460.24,734.41 470.18,736.35 480.11,738.27 490.04,740.18 499.98,742.08 509.91,743.98 519.84,745.9 529.77,747.76 539.71,749.54 549.64,751.32 559.57,753.17 569.51,755.17 579.44,757.4 588.47,759.76 597.5,762.45 606.53,765.36 615.56,768.36 624.59,771.33 633.62,774.15 642.65,776.84 651.68,779.5 660.71,782.13 669.74,784.74 678.77,787.33 687.8,789.9 696.83,792.45 705.86,794.99 714.89,797.51 723.92,800 732.95,802.47 741.98,804.9 751.01,807.25 760.04,809.52 769.07,811.76 778.1,814.03 787.13,816.39 796.16,818.9 805.55,821.71 814.94,824.69 824.33,827.78 833.72,830.94 843.12,834.1 852.75,837.35 862.38,840.64 872.01,843.98 881.64,847.34 891.28,850.73 900.91,854.14 910.54,857.57 920.17,861 929.8,864.43 939.44,867.85 949.07,871.26 958.7,874.65" stroke="rgba(155,70,250,0.85)" stroke-width="3.2"/>
<polyline points="146,690.2 155.03,690.76 164.06,691.31 173.09,691.86 182.12,692.4 191.15,692.96 200.18,693.54 209.21,694.15 218.24,694.8 227.27,695.47 236.3,696.14 245.33,696.84 254.36,697.58 263.39,698.37 272.42,699.24 281.45,700.22 290.48,701.3 299.51,702.62 308.54,704.24 317.57,706.12 326.6,708.19 335.63,710.42 344.66,712.75 353.69,715.12 362.72,717.49 371.75,719.8 380.78,722 390.05,724.18 399.32,726.36 408.59,728.53 417.86,730.71 427.13,732.89 436.4,735.08 445.68,737.28 454.95,739.51 464.22,741.76 473.49,744.03 482.76,746.34 492.03,748.69 501.3,751.08 510.57,753.51 519.84,756 529.41,758.65 538.99,761.39 548.56,764.2 558.13,767.08 567.7,770.01 577.27,772.96 586.84,775.92 596.42,778.87 605.99,781.81 615.56,784.7 624.59,790.59 633.62,796 642.65,800.36 651.68,804.21 660.71,807.77 669.74,811.22 678.77,814.76 687.8,818.6 696.83,822.7 705.86,826.9 714.89,831.18 723.92,835.55 732.95,839.98 741.98,844.48 751.01,849.03 760.04,853.63 769.07,858.26 778.1,862.92 787.13,867.6 796.16,872.3 805.19,877.03 814.22,881.82 823.25,886.66 832.28,891.54 841.31,896.47 850.34,901.44 859.37,906.44 868.4,911.46 877.43,916.51 886.46,921.57 895.49,926.64 904.52,931.72 913.55,936.8 922.58,941.87 931.61,946.93 940.64,951.98 949.67,957 958.7,962" stroke="#fcd4b4" stroke-width="2.4"/>
<polyline points="146,696.3 155.03,697.02 164.06,697.7 173.09,698.37 182.12,699.05 191.15,699.76 200.18,700.5 209.21,701.31 218.24,702.2 227.27,703.18 236.3,704.24 245.33,705.39 254.36,706.63 263.39,707.95 272.42,709.35 281.45,710.84 290.48,712.4 299.51,714.11 308.54,716.02 317.57,718.1 326.6,720.3 335.63,722.61 344.66,725 353.69,727.42 362.72,729.84 371.75,732.25 380.78,734.6 390.05,736.98 399.32,739.38 408.59,741.79 417.86,744.23 427.13,746.67 436.4,749.13 445.68,751.61 454.95,754.11 464.22,756.62 473.49,759.14 482.76,761.68 492.03,764.24 501.3,766.81 510.57,769.4 519.84,772 529.41,774.72 538.99,777.47 548.56,780.26 558.13,783.07 567.7,785.91 577.27,788.75 586.84,791.6 596.42,794.44 605.99,797.28 615.56,800.1 624.59,804.29 633.62,808.4 642.65,812.27 651.68,815.98 660.71,819.62 669.74,823.28 678.77,827.04 687.8,831 696.83,835.16 705.86,839.46 714.89,843.88 723.92,848.4 732.95,852.99 741.98,857.65 751.01,862.35 760.04,867.06 769.07,871.78 778.1,876.47 787.13,881.12 796.16,885.7 805.19,890.25 814.22,894.79 823.25,899.33 832.28,903.87 841.31,908.4 850.34,912.94 859.37,917.47 868.4,922 877.43,926.53 886.46,931.06 895.49,935.59 904.52,940.12 913.55,944.65 922.58,949.18 931.61,953.71 940.64,958.24 949.67,962.77 958.7,967.3" stroke="#f6b98a" stroke-width="2.6"/>
<polyline points="146,708.5 155.03,709.17 164.06,709.8 173.09,710.42 182.12,711.05 191.15,711.7 200.18,712.4 209.21,713.16 218.24,714 227.27,714.93 236.3,715.96 245.33,717.07 254.36,718.27 263.39,719.57 272.42,720.95 281.45,722.43 290.48,724 299.51,725.75 308.54,727.75 317.57,729.94 326.6,732.3 335.63,734.78 344.66,737.34 353.69,739.93 362.72,742.51 371.75,745.05 380.78,747.5 390.05,749.95 399.32,752.41 408.59,754.87 417.86,757.33 427.13,759.8 436.4,762.28 445.68,764.76 454.95,767.25 464.22,769.75 473.49,772.26 482.76,774.78 492.03,777.32 501.3,779.86 510.57,782.42 519.84,785 529.41,787.68 538.99,790.4 548.56,793.13 558.13,795.88 567.7,798.65 577.27,801.42 586.84,804.2 596.42,806.97 605.99,809.74 615.56,812.5 624.59,817.15 633.62,821.5 642.65,825.17 651.68,828.46 660.71,831.55 669.74,834.61 678.77,837.81 687.8,841.3 696.83,845.11 705.86,849.11 714.89,853.27 723.92,857.58 732.95,861.99 741.98,866.49 751.01,871.05 760.04,875.63 769.07,880.21 778.1,884.77 787.13,889.28 796.16,893.7 805.19,898.08 814.22,902.45 823.25,906.83 832.28,911.21 841.31,915.59 850.34,919.98 859.37,924.36 868.4,928.74 877.43,933.13 886.46,937.52 895.49,941.9 904.52,946.29 913.55,950.67 922.58,955.06 931.61,959.45 940.64,963.83 949.67,968.22 958.7,972.6" stroke="#f3a768" stroke-width="2.6"/>
<polyline points="146,710.9 155.03,711.57 164.06,712.2 173.09,712.82 182.12,713.45 191.15,714.1 200.18,714.8 209.21,715.56 218.24,716.4 227.27,717.33 236.3,718.36 245.33,719.47 254.36,720.67 263.39,721.97 272.42,723.35 281.45,724.83 290.48,726.4 299.51,728.15 308.54,730.15 317.57,732.34 326.6,734.7 335.63,737.18 344.66,739.74 353.69,742.33 362.72,744.91 371.75,747.45 380.78,749.9 390.05,752.35 399.32,754.81 408.59,757.27 417.86,759.73 427.13,762.2 436.4,764.68 445.68,767.16 454.95,769.65 464.22,772.15 473.49,774.66 482.76,777.18 492.03,779.72 501.3,782.26 510.57,784.82 519.84,787.4 529.41,790.08 538.99,792.8 548.56,795.53 558.13,798.28 567.7,801.05 577.27,803.82 586.84,806.6 596.42,809.37 605.99,812.14 615.56,814.9 624.59,819.55 633.62,823.9 642.65,827.57 651.68,830.86 660.71,833.95 669.74,837.01 678.77,840.21 687.8,843.7 696.83,847.51 705.86,851.51 714.89,855.67 723.92,859.98 732.95,864.39 741.98,868.89 751.01,873.45 760.04,878.03 769.07,882.61 778.1,887.17 787.13,891.68 796.16,896.1 805.19,900.48 814.22,904.85 823.25,909.23 832.28,913.61 841.31,917.99 850.34,922.38 859.37,926.76 868.4,931.14 877.43,935.53 886.46,939.92 895.49,944.3 904.52,948.69 913.55,953.07 922.58,957.46 931.61,961.85 940.64,966.23 949.67,970.62 958.7,975" stroke="#f3a768" stroke-width="2.6"/>
<polyline points="146,718.5 155.03,719.22 164.06,719.91 173.09,720.6 182.12,721.29 191.15,721.99 200.18,722.74 209.21,723.54 218.24,724.4 227.27,725.33 236.3,726.31 245.33,727.35 254.36,728.46 263.39,729.65 272.42,730.91 281.45,732.26 290.48,733.7 299.51,735.29 308.54,737.08 317.57,739.04 326.6,741.13 335.63,743.34 344.66,745.62 353.69,747.96 362.72,750.32 371.75,752.67 380.78,755 390.05,757.39 399.32,759.83 408.59,762.32 417.86,764.85 427.13,767.42 436.4,770.02 445.68,772.65 454.95,775.3 464.22,777.96 473.49,780.64 482.76,783.32 492.03,786 501.3,788.68 510.57,791.35 519.84,794 529.41,796.74 538.99,799.49 548.56,802.25 558.13,805.02 567.7,807.8 577.27,810.58 586.84,813.36 596.42,816.15 605.99,818.93 615.56,821.7 624.59,825.85 633.62,830 642.65,834.12 651.68,838.22 660.71,842.32 669.74,846.42 678.77,850.55 687.8,854.7 696.83,858.88 705.86,863.07 714.89,867.27 723.92,871.48 732.95,875.71 741.98,879.94 751.01,884.2 760.04,888.46 769.07,892.75 778.1,897.05 787.13,901.36 796.16,905.7 805.19,910.06 814.22,914.44 823.25,918.84 832.28,923.27 841.31,927.71 850.34,932.16 859.37,936.63 868.4,941.1 877.43,945.59 886.46,950.08 895.49,954.58 904.52,959.08 913.55,963.58 922.58,968.08 931.61,972.57 940.64,977.06 949.67,981.53 958.7,986" stroke="#ec7d22" stroke-width="2.4"/>
<polyline points="146,793.7 155.03,795.26 164.06,796.79 173.09,798.29 182.12,799.76 191.15,801.2 200.18,802.63 209.21,804.05 218.24,805.46 227.27,806.86 236.3,808.27 245.33,809.68 254.36,811.1 263.39,812.54 272.42,814 281.45,815.49 290.48,817.01 299.51,818.56 308.54,820.15 317.57,821.79 326.6,823.47 335.63,825.21 344.66,827.01 353.69,828.88 362.72,830.81 371.75,832.82 380.78,834.9 389.81,837.11 398.84,839.48 407.87,842 416.9,844.65 425.93,847.44 434.96,850.35 443.99,853.37 453.02,856.49 462.05,859.7 471.08,863 480.11,866.36 489.14,869.79 498.17,873.27 507.2,876.79 516.23,880.35 525.26,883.92 534.29,887.51 543.32,891.11 552.35,894.69 561.38,898.27 570.41,901.81 579.44,905.32 588.47,908.78 597.5,912.19 606.53,915.53 615.56,918.8 716.7,994" stroke="rgba(110,185,110,0.8)" stroke-width="2"/>
<polyline points="146,795.7 155.03,797.26 164.06,798.79 173.09,800.29 182.12,801.76 191.15,803.2 200.18,804.63 209.21,806.05 218.24,807.46 227.27,808.86 236.3,810.27 245.33,811.68 254.36,813.1 263.39,814.54 272.42,816 281.45,817.49 290.48,819.01 299.51,820.56 308.54,822.15 317.57,823.79 326.6,825.47 335.63,827.21 344.66,829.01 353.69,830.88 362.72,832.81 371.75,834.82 380.78,836.9 389.81,839.11 398.84,841.48 407.87,844 416.9,846.65 425.93,849.44 434.96,852.35 443.99,855.37 453.02,858.49 462.05,861.7 471.08,865 480.11,868.36 489.14,871.79 498.17,875.27 507.2,878.79 516.23,882.35 525.26,885.92 534.29,889.51 543.32,893.11 552.35,896.69 561.38,900.27 570.41,903.81 579.44,907.32 588.47,910.78 597.5,914.19 606.53,917.53 615.56,920.8 716.7,996" stroke="rgba(110,185,110,0.8)" stroke-width="2"/>
<polyline points="146,832.6 155.03,834.19 164.06,835.74 173.09,837.26 182.12,838.76 191.15,840.23 200.18,841.69 209.21,843.13 218.24,844.57 227.27,846 236.3,847.44 245.33,848.88 254.36,850.33 263.39,851.8 272.42,853.29 281.45,854.8 290.48,856.34 299.51,857.92 308.54,859.53 317.57,861.19 326.6,862.89 335.63,864.65 344.66,866.47 353.69,868.35 362.72,870.29 371.75,872.31 380.78,874.4 389.81,876.61 398.84,878.97 407.87,881.47 416.9,884.1 425.93,886.85 434.96,889.71 443.99,892.68 453.02,895.74 462.05,898.89 471.08,902.11 480.11,905.41 489.14,908.75 498.17,912.15 507.2,915.59 516.23,919.06 525.26,922.55 534.29,926.05 543.32,929.55 552.35,933.05 561.38,936.53 570.41,939.99 579.44,943.42 588.47,946.8 597.5,950.13 606.53,953.4 615.56,956.6 669.74,995" stroke="rgba(110,185,110,0.8)" stroke-width="2"/>
<polyline points="146,841.2 155.03,842.82 164.06,844.4 173.09,845.96 182.12,847.49 191.15,848.99 200.18,850.48 209.21,851.96 218.24,853.43 227.27,854.9 236.3,856.37 245.33,857.84 254.36,859.33 263.39,860.83 272.42,862.35 281.45,863.9 290.48,865.47 299.51,867.08 308.54,868.72 317.57,870.41 326.6,872.15 335.63,873.93 344.66,875.78 353.69,877.68 362.72,879.65 371.75,881.69 380.78,883.8 389.81,886.03 398.84,888.39 407.87,890.9 416.9,893.52 425.93,896.27 434.96,899.12 443.99,902.07 453.02,905.11 462.05,908.23 471.08,911.43 480.11,914.68 489.14,918 498.17,921.36 507.2,924.75 516.23,928.18 525.26,931.63 534.29,935.09 543.32,938.55 552.35,942 561.38,945.45 570.41,948.86 579.44,952.25 588.47,955.6 597.5,958.89 606.53,962.13 615.56,965.3 656.19,995" stroke="rgba(110,185,110,0.8)" stroke-width="2"/>
<polyline points="146,861.3 155.29,863.09 164.58,864.84 173.86,866.56 183.15,868.25 192.44,869.93 201.73,871.58 211.02,873.23 220.3,874.86 229.59,876.49 238.88,878.11 248.17,879.74 257.46,881.38 266.74,883.02 276.03,884.68 285.32,886.36 294.61,888.07 303.9,889.8 313.18,891.56 322.47,893.36 331.76,895.2 341.05,897.08 350.34,899 359.62,900.98 368.91,903.02 378.2,905.11 387.49,907.27 396.78,909.5 406.06,911.8 415.17,914.17 424.28,916.67 433.39,919.31 442.5,922.07 451.61,924.94 460.72,927.92 469.82,930.98 478.93,934.13 488.04,937.35 497.15,940.63 506.26,943.97 515.37,947.34 524.47,950.75 533.58,954.19 542.69,957.64 551.8,961.09 560.91,964.53 570.02,967.96 579.13,971.36 588.23,974.72 597.34,978.04 606.45,981.3 615.56,984.5 630.01,995" stroke="rgba(110,185,110,0.8)" stroke-width="2"/>
<polyline points="405.16,683.6 416.9,686.72 428.64,689.84 440.38,693.3 450.61,696.89 460.85,700.86 471.08,704.8 480.11,708.07 489.14,711.28 498.17,714.55 507.2,718 516.23,721.71 525.26,725.63 534.29,729.63 543.32,733.6 552.35,737.51 561.38,741.43 570.41,745.36 579.44,749.3 590.28,754.05 601.11,758.83 611.95,763.6 624.59,771.8 633.62,778 642.65,785.29 651.68,793.29 660.71,801.78 669.74,810.54 678.77,819.35 687.8,828 696.83,836.53 705.86,845.13 714.89,853.78 723.92,862.47 732.95,871.2 741.98,879.95 751.01,888.73 760.04,897.5 769.07,906.28 778.1,915.05 787.13,923.79 796.16,932.5 805.45,941.44 814.74,950.37 824.02,959.3 833.31,968.22 842.6,977.15 851.89,986.07 861.18,995" stroke="#0000ff" stroke-width="4.4"/>
<polyline points="530.68,683.6 540.43,687.44 550.18,691.31 559.94,695.17 569.69,698.98 579.44,702.7 590.28,706.7 601.11,710.6 611.95,714.5 624.59,722 633.62,730.7 642.65,739.2 651.68,747.57 660.71,755.88 669.74,764.19 678.77,772.54 687.8,781 696.83,789.56 705.86,798.17 714.89,806.82 723.92,815.52 732.95,824.24 741.98,832.99 751.01,841.76 760.04,850.55 769.07,859.34 778.1,868.13 787.13,876.92 796.16,885.7 805.49,894.77 814.82,903.85 824.15,912.95 833.48,922.05 842.81,931.16 852.15,940.28 861.48,949.4 870.81,958.53 880.14,967.65 889.47,976.77 898.8,985.89 908.13,995" stroke="#8c9ef6" stroke-width="4.4"/>
<polyline points="201.62,683.6 212.17,684.5 222.72,685.35 233.27,686.22 243.81,687.18 254.36,688.3 263.39,689.43 272.42,690.75 281.45,692.24 290.48,693.9 299.51,695.88 308.54,698.21 317.57,700.69 326.6,703.1 335.63,705.36 344.66,707.59 353.69,709.9 362.72,712.4 371.75,715.19 380.78,718.23 389.81,721.37 398.84,724.5 407.87,727.57 416.9,730.64 425.93,733.77 434.96,737 443.99,740.39 453.02,743.9 462.05,747.44 471.08,750.9 480.11,754.2 489.14,757.41 498.17,760.66 507.2,764.1 516.23,767.81 525.26,771.73 534.29,775.73 543.32,779.7 552.35,783.63 561.38,787.58 570.41,791.52 579.44,795.4 588.47,799.22 597.5,802.99 606.53,806.74 615.56,810.5 816.03,995" stroke="#ff0000" stroke-width="4.4"/>
</g>
<g>
<rect x="157" y="763" width="216" height="130" fill="#fff"/>
<rect x="153" y="893" width="253" height="89" fill="#fff"/>
<path d="M146 817.5V995" stroke="#fff" stroke-width="0"/>
<g font-family='"Liberation Sans", sans-serif' fill="#000">
<text x="165.8" y="788.6" font-size="25">Atomic orbitals (<tspan font-style="italic">n</tspan>):</text>
<g font-size="21.2">
<text x="236.5" y="820.8">8&#8211;20</text><text x="236.5" y="849.8">7</text><text x="236.5" y="879.2">6</text>
<text x="354" y="818.4">5</text><text x="354" y="847.6">4</text><text x="354" y="877.6">3</text>
<text x="235.5" y="913.1">2p 3/2 +5.5keV</text><text x="235.5" y="942.5">2p 1/2 +5.5keV</text><text x="235.5" y="971.1">2s +5.5keV</text>
</g></g>
<g stroke-width="2.2" fill="none">
<path d="M163.6 813.1H227" stroke="#e0e0e0"/>
<path d="M163.6 841.9H227" stroke="#a85252"/>
<path d="M163.6 872H227" stroke="#5252c8"/>
<path d="M290.4 812H347.4" stroke="#9b45f2" stroke-width="2.6"/>
<path d="M290.4 840.7H347.4" stroke="#ef7a22"/>
<path d="M290.4 870.8H347.4" stroke="#86c886"/>
</g>
<g stroke-width="4.3" stroke-linecap="round" fill="none">
<path d="M165 905.5H214.5" stroke="#8c9ef6"/>
<path d="M165 935H214.5" stroke="#0000ff"/>
<path d="M165 964.3H214.5" stroke="#ff0000"/>
</g>
</g>
<path d="M633.62 16.4V184.8M633.62 309.5V995" stroke="#000" stroke-width="2.5" stroke-dasharray="4.3 7.9" stroke-linecap="round" fill="none"/>
<path d="M687.8 16.4V995" stroke="#000" stroke-width="2.5" stroke-dasharray="4.3 7.9" stroke-linecap="round" fill="none"/>
<path d="M796.16 89.5V995" stroke="#000" stroke-width="2.5" stroke-dasharray="4.3 7.9" stroke-linecap="round" fill="none"/>
<g stroke="#000" fill="none" stroke-width="2.2" stroke-linecap="round" stroke-linejoin="round"><path d="M164.06 13.4v6.4M164.06 389.5v-6.4M182.12 13.4v6.4M182.12 389.5v-6.4M200.18 13.4v6.4M200.18 389.5v-6.4M218.24 13.4v6.4M218.24 389.5v-6.4M236.3 13.4v12M236.3 389.5v-12M254.36 13.4v6.4M254.36 389.5v-6.4M272.42 13.4v6.4M272.42 389.5v-6.4M290.48 13.4v6.4M290.48 389.5v-6.4M308.54 13.4v6.4M308.54 389.5v-6.4M326.6 13.4v12M326.6 389.5v-12M344.66 13.4v6.4M344.66 389.5v-6.4M362.72 13.4v6.4M362.72 389.5v-6.4M380.78 13.4v6.4M380.78 389.5v-6.4M398.84 13.4v6.4M398.84 389.5v-6.4M416.9 13.4v12M416.9 389.5v-12M434.96 13.4v6.4M434.96 389.5v-6.4M453.02 13.4v6.4M453.02 389.5v-6.4M471.08 13.4v6.4M471.08 389.5v-6.4M489.14 13.4v6.4M489.14 389.5v-6.4M507.2 13.4v12M507.2 389.5v-12M525.26 13.4v6.4M525.26 389.5v-6.4M543.32 13.4v6.4M543.32 389.5v-6.4M561.38 13.4v6.4M561.38 389.5v-6.4M579.44 13.4v6.4M579.44 389.5v-6.4M597.5 13.4v12M597.5 389.5v-12M615.56 13.4v6.4M615.56 389.5v-6.4M633.62 13.4v6.4M633.62 389.5v-6.4M651.68 13.4v6.4M651.68 389.5v-6.4M669.74 13.4v6.4M669.74 389.5v-6.4M687.8 13.4v12M687.8 389.5v-12M705.86 13.4v6.4M705.86 389.5v-6.4M723.92 13.4v6.4M723.92 389.5v-6.4M741.98 13.4v6.4M741.98 389.5v-6.4M760.04 13.4v6.4M760.04 389.5v-6.4M778.1 13.4v12M778.1 389.5v-12M796.16 13.4v6.4M796.16 389.5v-6.4M814.22 13.4v6.4M814.22 389.5v-6.4M832.28 13.4v6.4M832.28 389.5v-6.4M850.34 13.4v6.4M850.34 389.5v-6.4M868.4 13.4v12M868.4 389.5v-12M886.46 13.4v6.4M886.46 389.5v-6.4M904.52 13.4v6.4M904.52 389.5v-6.4M922.58 13.4v6.4M922.58 389.5v-6.4M940.64 13.4v6.4M940.64 389.5v-6.4M146 389.5h12.2M958.7 389.5h-12.2M146 275.6h12.2M958.7 275.6h-12.2M146 161.7h12.2M958.7 161.7h-12.2M146 47.8h12.2M958.7 47.8h-12.2M146 355.21h6.4M958.7 355.21h-6.4M146 335.16h6.4M958.7 335.16h-6.4M146 320.93h6.4M958.7 320.93h-6.4M146 309.89h6.4M958.7 309.89h-6.4M146 300.87h6.4M958.7 300.87h-6.4M146 293.24h6.4M958.7 293.24h-6.4M146 286.64h6.4M958.7 286.64h-6.4M146 280.81h6.4M958.7 280.81h-6.4M146 241.31h6.4M958.7 241.31h-6.4M146 221.26h6.4M958.7 221.26h-6.4M146 207.03h6.4M958.7 207.03h-6.4M146 195.99h6.4M958.7 195.99h-6.4M146 186.97h6.4M958.7 186.97h-6.4M146 179.34h6.4M958.7 179.34h-6.4M146 172.74h6.4M958.7 172.74h-6.4M146 166.91h6.4M958.7 166.91h-6.4M146 127.41h6.4M958.7 127.41h-6.4M146 107.36h6.4M958.7 107.36h-6.4M146 93.13h6.4M958.7 93.13h-6.4M146 82.09h6.4M958.7 82.09h-6.4M146 73.07h6.4M958.7 73.07h-6.4M146 65.44h6.4M958.7 65.44h-6.4M146 58.84h6.4M958.7 58.84h-6.4M146 53.01h6.4M958.7 53.01h-6.4"/></g><g stroke="#000" fill="none" stroke-width="2.2" stroke-linecap="round" stroke-linejoin="round"><path d="M164.06 423.3v6.4M164.06 648.6v-6.4M182.12 423.3v6.4M182.12 648.6v-6.4M200.18 423.3v6.4M200.18 648.6v-6.4M218.24 423.3v6.4M218.24 648.6v-6.4M236.3 423.3v12M236.3 648.6v-12M254.36 423.3v6.4M254.36 648.6v-6.4M272.42 423.3v6.4M272.42 648.6v-6.4M290.48 423.3v6.4M290.48 648.6v-6.4M308.54 423.3v6.4M308.54 648.6v-6.4M326.6 423.3v12M326.6 648.6v-12M344.66 423.3v6.4M344.66 648.6v-6.4M362.72 423.3v6.4M362.72 648.6v-6.4M380.78 423.3v6.4M380.78 648.6v-6.4M398.84 423.3v6.4M398.84 648.6v-6.4M416.9 423.3v12M416.9 648.6v-12M434.96 423.3v6.4M434.96 648.6v-6.4M453.02 423.3v6.4M453.02 648.6v-6.4M471.08 423.3v6.4M471.08 648.6v-6.4M489.14 423.3v6.4M489.14 648.6v-6.4M507.2 423.3v12M507.2 648.6v-12M525.26 423.3v6.4M525.26 648.6v-6.4M543.32 423.3v6.4M543.32 648.6v-6.4M561.38 423.3v6.4M561.38 648.6v-6.4M579.44 423.3v6.4M579.44 648.6v-6.4M597.5 423.3v12M597.5 648.6v-12M615.56 423.3v6.4M615.56 648.6v-6.4M633.62 423.3v6.4M633.62 648.6v-6.4M651.68 423.3v6.4M651.68 648.6v-6.4M669.74 423.3v6.4M669.74 648.6v-6.4M687.8 423.3v12M687.8 648.6v-12M705.86 423.3v6.4M705.86 648.6v-6.4M723.92 423.3v6.4M723.92 648.6v-6.4M741.98 423.3v6.4M741.98 648.6v-6.4M760.04 423.3v6.4M760.04 648.6v-6.4M778.1 423.3v12M778.1 648.6v-12M796.16 423.3v6.4M796.16 648.6v-6.4M814.22 423.3v6.4M814.22 648.6v-6.4M832.28 423.3v6.4M832.28 648.6v-6.4M850.34 423.3v6.4M850.34 648.6v-6.4M868.4 423.3v12M868.4 648.6v-12M886.46 423.3v6.4M886.46 648.6v-6.4M904.52 423.3v6.4M904.52 648.6v-6.4M922.58 423.3v6.4M922.58 648.6v-6.4M940.64 423.3v6.4M940.64 648.6v-6.4M146 648.5h12.2M958.7 648.5h-12.2M146 540.05h12.2M958.7 540.05h-12.2M146 431.6h12.2M958.7 431.6h-12.2M146 615.85h6.4M958.7 615.85h-6.4M146 596.76h6.4M958.7 596.76h-6.4M146 583.21h6.4M958.7 583.21h-6.4M146 572.7h6.4M958.7 572.7h-6.4M146 564.11h6.4M958.7 564.11h-6.4M146 556.85h6.4M958.7 556.85h-6.4M146 550.56h6.4M958.7 550.56h-6.4M146 545.01h6.4M958.7 545.01h-6.4M146 507.4h6.4M958.7 507.4h-6.4M146 488.31h6.4M958.7 488.31h-6.4M146 474.76h6.4M958.7 474.76h-6.4M146 464.25h6.4M958.7 464.25h-6.4M146 455.66h6.4M958.7 455.66h-6.4M146 448.4h6.4M958.7 448.4h-6.4M146 442.11h6.4M958.7 442.11h-6.4M146 436.56h6.4M958.7 436.56h-6.4"/></g>
<g clip-path="url(#ca)"><g fill="none" stroke="#00ec00" stroke-width="3.2" stroke-dasharray="11.5 15.3" stroke-linecap="round"><path d="M164.06 270L182.12 207"/><path d="M182.12 207L200.18 167.6"/><path d="M200.18 167.6L218.24 121"/><path d="M218.24 121L236.3 131.4"/><path d="M236.3 131.4L254.36 78"/><path d="M254.36 78L272.42 27.5"/><path d="M272.42 27.5L290.48 75"/><path d="M290.48 75L308.54 98"/><path d="M308.54 98L326.6 103.3"/><path d="M326.6 103.3L344.66 100.8"/><path d="M344.66 100.8L362.72 100.8"/><path d="M362.72 100.8L380.78 104"/><path d="M380.78 104L398.84 105.7"/><path d="M398.84 105.7L416.9 109"/><path d="M416.9 109L434.96 114.8"/><path d="M434.96 114.8L453.02 115.6"/><path d="M453.02 115.6L471.08 117"/><path d="M471.08 117L489.14 109.3"/><path d="M489.14 109.3L507.2 119.1"/><path d="M507.2 119.1L525.26 126.5"/><path d="M525.26 126.5L543.32 124.1"/><path d="M543.32 124.1L561.38 82.1"/><path d="M561.38 82.1L579.44 76"/><path d="M579.44 76L597.5 69.4"/><path d="M597.5 69.4L615.56 84.6"/><path d="M615.56 84.6L633.62 103"/><path d="M633.62 103L651.68 126.7"/><path d="M651.68 126.7L669.74 144"/><path d="M669.74 144L687.8 172"/><path d="M687.8 172L705.86 199.4"/><path d="M705.86 199.4L723.92 226.4"/><path d="M723.92 226.4L741.98 268.1"/><path d="M741.98 268.1L760.04 312.4"/><path d="M760.04 312.4L778.1 362.9"/><path d="M778.1 362.9L796.16 440"/></g><circle cx="164.06" cy="270" r="4" fill="#00ec00"/><circle cx="182.12" cy="207" r="4" fill="#00ec00"/><circle cx="200.18" cy="167.6" r="4" fill="#00ec00"/><circle cx="218.24" cy="121" r="4" fill="#00ec00"/><circle cx="236.3" cy="131.4" r="4" fill="#00ec00"/><circle cx="254.36" cy="78" r="4" fill="#00ec00"/><circle cx="272.42" cy="27.5" r="4" fill="#00ec00"/><circle cx="290.48" cy="75" r="4" fill="#00ec00"/><circle cx="308.54" cy="98" r="4" fill="#00ec00"/><circle cx="326.6" cy="103.3" r="4" fill="#00ec00"/><circle cx="344.66" cy="100.8" r="4" fill="#00ec00"/><circle cx="362.72" cy="100.8" r="4" fill="#00ec00"/><circle cx="380.78" cy="104" r="4" fill="#00ec00"/><circle cx="398.84" cy="105.7" r="4" fill="#00ec00"/><circle cx="416.9" cy="109" r="4" fill="#00ec00"/><circle cx="434.96" cy="114.8" r="4" fill="#00ec00"/><circle cx="453.02" cy="115.6" r="4" fill="#00ec00"/><circle cx="471.08" cy="117" r="4" fill="#00ec00"/><circle cx="489.14" cy="109.3" r="4" fill="#00ec00"/><circle cx="507.2" cy="119.1" r="4" fill="#00ec00"/><circle cx="525.26" cy="126.5" r="4" fill="#00ec00"/><circle cx="543.32" cy="124.1" r="4" fill="#00ec00"/><circle cx="561.38" cy="82.1" r="4" fill="#00ec00"/><circle cx="579.44" cy="76" r="4" fill="#00ec00"/><circle cx="597.5" cy="69.4" r="4" fill="#00ec00"/><circle cx="615.56" cy="84.6" r="4" fill="#00ec00"/><circle cx="633.62" cy="103" r="4" fill="#00ec00"/><circle cx="651.68" cy="126.7" r="4" fill="#00ec00"/><circle cx="669.74" cy="144" r="4" fill="#00ec00"/><circle cx="687.8" cy="172" r="4" fill="#00ec00"/><circle cx="705.86" cy="199.4" r="4" fill="#00ec00"/><circle cx="723.92" cy="226.4" r="4" fill="#00ec00"/><circle cx="741.98" cy="268.1" r="4" fill="#00ec00"/><circle cx="760.04" cy="312.4" r="4" fill="#00ec00"/><circle cx="778.1" cy="362.9" r="4" fill="#00ec00"/><circle cx="796.16" cy="440" r="4" fill="#00ec00"/></g>
<g clip-path="url(#ca)"><g fill="none" stroke="#808080" stroke-width="3.2" stroke-dasharray="11.5 15.3" stroke-linecap="round"><path d="M164.06 243L182.12 186.6"/><path d="M182.12 186.6L200.18 172"/><path d="M200.18 172L218.24 118"/><path d="M218.24 118L236.3 130"/><path d="M236.3 130L254.36 80"/><path d="M254.36 80L272.42 32"/><path d="M272.42 32L290.48 80"/><path d="M290.48 80L308.54 98"/><path d="M308.54 98L326.6 105.7"/><path d="M326.6 105.7L344.66 106.5"/><path d="M344.66 106.5L362.72 102.4"/><path d="M362.72 102.4L380.78 102.4"/><path d="M380.78 102.4L398.84 114"/><path d="M398.84 114L416.9 107.4"/><path d="M416.9 107.4L434.96 113"/><path d="M434.96 113L453.02 116.4"/><path d="M453.02 116.4L471.08 125.7"/><path d="M471.08 125.7L489.14 119"/><path d="M489.14 119L507.2 124"/><path d="M507.2 124L525.26 131.5"/><path d="M525.26 131.5L543.32 134.8"/><path d="M543.32 134.8L561.38 130.7"/><path d="M561.38 130.7L579.44 130.7"/><path d="M579.44 130.7L597.5 122.4"/><path d="M597.5 122.4L615.56 120.8"/><path d="M615.56 120.8L633.62 107.7"/><path d="M633.62 107.7L651.68 103.6"/><path d="M651.68 103.6L669.74 127.5"/><path d="M669.74 127.5L687.8 117.6"/><path d="M687.8 117.6L705.86 100.3"/><path d="M705.86 100.3L723.92 134"/><path d="M723.92 134L741.98 153"/><path d="M741.98 153L760.04 126.8"/><path d="M760.04 126.8L778.1 152.9"/><path d="M778.1 152.9L796.16 236.9"/><path d="M796.16 236.9L814.22 181.7"/><path d="M814.22 181.7L832.28 150.6"/><path d="M832.28 150.6L850.34 166.3"/><path d="M850.34 166.3L868.4 210.5"/><path d="M868.4 210.5L886.46 282.5"/><path d="M886.46 282.5L904.52 370"/><path d="M904.52 370L922.58 470"/></g><circle cx="164.06" cy="243" r="4" fill="#808080"/><circle cx="182.12" cy="186.6" r="4" fill="#808080"/><circle cx="200.18" cy="172" r="4" fill="#808080"/><circle cx="218.24" cy="118" r="4" fill="#808080"/><circle cx="236.3" cy="130" r="4" fill="#808080"/><circle cx="254.36" cy="80" r="4" fill="#808080"/><circle cx="272.42" cy="32" r="4" fill="#808080"/><circle cx="290.48" cy="80" r="4" fill="#808080"/><circle cx="308.54" cy="98" r="4" fill="#808080"/><circle cx="326.6" cy="105.7" r="4" fill="#808080"/><circle cx="344.66" cy="106.5" r="4" fill="#808080"/><circle cx="362.72" cy="102.4" r="4" fill="#808080"/><circle cx="380.78" cy="102.4" r="4" fill="#808080"/><circle cx="398.84" cy="114" r="4" fill="#808080"/><circle cx="416.9" cy="107.4" r="4" fill="#808080"/><circle cx="434.96" cy="113" r="4" fill="#808080"/><circle cx="453.02" cy="116.4" r="4" fill="#808080"/><circle cx="471.08" cy="125.7" r="4" fill="#808080"/><circle cx="489.14" cy="119" r="4" fill="#808080"/><circle cx="507.2" cy="124" r="4" fill="#808080"/><circle cx="525.26" cy="131.5" r="4" fill="#808080"/><circle cx="543.32" cy="134.8" r="4" fill="#808080"/><circle cx="561.38" cy="130.7" r="4" fill="#808080"/><circle cx="579.44" cy="130.7" r="4" fill="#808080"/><circle cx="597.5" cy="122.4" r="4" fill="#808080"/><circle cx="615.56" cy="120.8" r="4" fill="#808080"/><circle cx="633.62" cy="107.7" r="4" fill="#808080"/><circle cx="651.68" cy="103.6" r="4" fill="#808080"/><circle cx="669.74" cy="127.5" r="4" fill="#808080"/><circle cx="687.8" cy="117.6" r="4" fill="#808080"/><circle cx="705.86" cy="100.3" r="4" fill="#808080"/><circle cx="723.92" cy="134" r="4" fill="#808080"/><circle cx="741.98" cy="153" r="4" fill="#808080"/><circle cx="760.04" cy="126.8" r="4" fill="#808080"/><circle cx="778.1" cy="152.9" r="4" fill="#808080"/><circle cx="796.16" cy="236.9" r="4" fill="#808080"/><circle cx="814.22" cy="181.7" r="4" fill="#808080"/><circle cx="832.28" cy="150.6" r="4" fill="#808080"/><circle cx="850.34" cy="166.3" r="4" fill="#808080"/><circle cx="868.4" cy="210.5" r="4" fill="#808080"/><circle cx="886.46" cy="282.5" r="4" fill="#808080"/><circle cx="904.52" cy="370" r="4" fill="#808080"/><circle cx="922.58" cy="470" r="4" fill="#808080"/></g>
<g clip-path="url(#ca)"><polyline points="164.06,248.3 182.12,219.5 200.18,196.8 218.24,122.1 236.3,136.5 254.36,78 272.42,31 290.48,70.7 308.54,92.3 326.6,95 344.66,102.4 362.72,100.8 380.78,99.1 398.84,97.8 416.9,97.2 434.96,98.8 453.02,100 471.08,103.5 489.14,115.8 507.2,114.2 525.26,96.9 543.32,86.5 561.38,84.6 579.44,82.1 597.5,98.6 615.56,112.6 633.62,129.1 651.68,147.2 669.74,167.6 687.8,191.7 705.86,220.2 723.92,255.4 741.98,296 760.04,342 778.1,397" fill="none" stroke="#0000ff" stroke-width="2.8" stroke-linejoin="round"/><rect x="160.56" y="244.8" width="7" height="7" fill="#0000ff"/><rect x="178.62" y="216" width="7" height="7" fill="#0000ff"/><rect x="196.68" y="193.3" width="7" height="7" fill="#0000ff"/><rect x="214.74" y="118.6" width="7" height="7" fill="#0000ff"/><rect x="232.8" y="133" width="7" height="7" fill="#0000ff"/><rect x="250.86" y="74.5" width="7" height="7" fill="#0000ff"/><rect x="268.92" y="27.5" width="7" height="7" fill="#0000ff"/><rect x="286.98" y="67.2" width="7" height="7" fill="#0000ff"/><rect x="305.04" y="88.8" width="7" height="7" fill="#0000ff"/><rect x="323.1" y="91.5" width="7" height="7" fill="#0000ff"/><rect x="341.16" y="98.9" width="7" height="7" fill="#0000ff"/><rect x="359.22" y="97.3" width="7" height="7" fill="#0000ff"/><rect x="377.28" y="95.6" width="7" height="7" fill="#0000ff"/><rect x="395.34" y="94.3" width="7" height="7" fill="#0000ff"/><rect x="413.4" y="93.7" width="7" height="7" fill="#0000ff"/><rect x="431.46" y="95.3" width="7" height="7" fill="#0000ff"/><rect x="449.52" y="96.5" width="7" height="7" fill="#0000ff"/><rect x="467.58" y="100" width="7" height="7" fill="#0000ff"/><rect x="485.64" y="112.3" width="7" height="7" fill="#0000ff"/><rect x="503.7" y="110.7" width="7" height="7" fill="#0000ff"/><rect x="521.76" y="93.4" width="7" height="7" fill="#0000ff"/><rect x="539.82" y="83" width="7" height="7" fill="#0000ff"/><rect x="557.88" y="81.1" width="7" height="7" fill="#0000ff"/><rect x="575.94" y="78.6" width="7" height="7" fill="#0000ff"/><rect x="594" y="95.1" width="7" height="7" fill="#0000ff"/><rect x="612.06" y="109.1" width="7" height="7" fill="#0000ff"/><rect x="630.12" y="125.6" width="7" height="7" fill="#0000ff"/><rect x="648.18" y="143.7" width="7" height="7" fill="#0000ff"/><rect x="666.24" y="164.1" width="7" height="7" fill="#0000ff"/><rect x="684.3" y="188.2" width="7" height="7" fill="#0000ff"/><rect x="702.36" y="216.7" width="7" height="7" fill="#0000ff"/><rect x="720.42" y="251.9" width="7" height="7" fill="#0000ff"/><rect x="738.48" y="292.5" width="7" height="7" fill="#0000ff"/><rect x="756.54" y="338.5" width="7" height="7" fill="#0000ff"/><rect x="774.6" y="393.5" width="7" height="7" fill="#0000ff"/></g>
<g clip-path="url(#ca)"><polyline points="164.06,283.9 182.12,207.8 200.18,188.8 218.24,128.3 236.3,145.8 254.36,76.9 272.42,30.6 290.48,76.9 308.54,98.5 326.6,102.1 344.66,103.7 362.72,98.3 380.78,97.5 398.84,100.8 416.9,107.4 434.96,110.7 453.02,113.1 471.08,117.5 489.14,120.8 507.2,120 525.26,130.7 543.32,139.7 561.38,138.9 579.44,126.5 597.5,114.2 615.56,99.5 633.62,103.6 651.68,132.4 669.74,148.9 687.8,108.6 705.86,87.2 723.92,104.1 741.98,137 760.04,179 778.1,244.5 796.16,195.1 814.22,175.1 832.28,200.2 850.34,228 868.4,288 886.46,364.8 904.52,530" fill="none" stroke="#ff0000" stroke-width="2.8" stroke-linejoin="round"/><rect x="160.56" y="280.4" width="7" height="7" fill="#ff0000"/><rect x="178.62" y="204.3" width="7" height="7" fill="#ff0000"/><rect x="196.68" y="185.3" width="7" height="7" fill="#ff0000"/><rect x="214.74" y="124.8" width="7" height="7" fill="#ff0000"/><rect x="232.8" y="142.3" width="7" height="7" fill="#ff0000"/><rect x="250.86" y="73.4" width="7" height="7" fill="#ff0000"/><rect x="268.92" y="27.1" width="7" height="7" fill="#ff0000"/><rect x="286.98" y="73.4" width="7" height="7" fill="#ff0000"/><rect x="305.04" y="95" width="7" height="7" fill="#ff0000"/><rect x="323.1" y="98.6" width="7" height="7" fill="#ff0000"/><rect x="341.16" y="100.2" width="7" height="7" fill="#ff0000"/><rect x="359.22" y="94.8" width="7" height="7" fill="#ff0000"/><rect x="377.28" y="94" width="7" height="7" fill="#ff0000"/><rect x="395.34" y="97.3" width="7" height="7" fill="#ff0000"/><rect x="413.4" y="103.9" width="7" height="7" fill="#ff0000"/><rect x="431.46" y="107.2" width="7" height="7" fill="#ff0000"/><rect x="449.52" y="109.6" width="7" height="7" fill="#ff0000"/><rect x="467.58" y="114" width="7" height="7" fill="#ff0000"/><rect x="485.64" y="117.3" width="7" height="7" fill="#ff0000"/><rect x="503.7" y="116.5" width="7" height="7" fill="#ff0000"/><rect x="521.76" y="127.2" width="7" height="7" fill="#ff0000"/><rect x="539.82" y="136.2" width="7" height="7" fill="#ff0000"/><rect x="557.88" y="135.4" width="7" height="7" fill="#ff0000"/><rect x="575.94" y="123" width="7" height="7" fill="#ff0000"/><rect x="594" y="110.7" width="7" height="7" fill="#ff0000"/><rect x="612.06" y="96" width="7" height="7" fill="#ff0000"/><rect x="630.12" y="100.1" width="7" height="7" fill="#ff0000"/><rect x="648.18" y="128.9" width="7" height="7" fill="#ff0000"/><rect x="666.24" y="145.4" width="7" height="7" fill="#ff0000"/><rect x="684.3" y="105.1" width="7" height="7" fill="#ff0000"/><rect x="702.36" y="83.7" width="7" height="7" fill="#ff0000"/><rect x="720.42" y="100.6" width="7" height="7" fill="#ff0000"/><rect x="738.48" y="133.5" width="7" height="7" fill="#ff0000"/><rect x="756.54" y="175.5" width="7" height="7" fill="#ff0000"/><rect x="774.6" y="241" width="7" height="7" fill="#ff0000"/><rect x="792.66" y="191.6" width="7" height="7" fill="#ff0000"/><rect x="810.72" y="171.6" width="7" height="7" fill="#ff0000"/><rect x="828.78" y="196.7" width="7" height="7" fill="#ff0000"/><rect x="846.84" y="224.5" width="7" height="7" fill="#ff0000"/><rect x="864.9" y="284.5" width="7" height="7" fill="#ff0000"/><rect x="882.96" y="361.3" width="7" height="7" fill="#ff0000"/><rect x="901.02" y="526.5" width="7" height="7" fill="#ff0000"/></g>
<g clip-path="url(#ca)"><polyline points="200.18,179.8 218.24,110.8 236.3,106.7 254.36,83 272.42,65.6 290.48,48.7 308.54,55.3 326.6,63.8 344.66,78.9 362.72,90.1 380.78,90.9 398.84,95.5 416.9,102.4 434.96,110.3 453.02,112.6 471.08,116.5 489.14,121.6 507.2,129.8 525.26,134.8 543.32,146.3 561.38,147.1 579.44,134.8 597.5,124.9 615.56,123 633.62,123.4 651.68,144.8 669.74,157.9 687.8,134.9 705.86,128.3 723.92,139.3 741.98,165 760.04,195.7 778.1,226.6 796.16,217.7 814.22,212.2 832.28,234.2 850.34,250.3 868.4,288.6 886.46,328.8 904.52,378.6" fill="none" stroke="#000" stroke-width="2.8" stroke-linejoin="round"/><rect x="194.18" y="173.8" width="12" height="12" fill="#000"/><rect x="212.24" y="104.8" width="12" height="12" fill="#000"/><rect x="230.3" y="100.7" width="12" height="12" fill="#000"/><rect x="248.36" y="77" width="12" height="12" fill="#000"/><rect x="266.42" y="59.6" width="12" height="12" fill="#000"/><rect x="284.48" y="42.7" width="12" height="12" fill="#000"/><rect x="302.54" y="49.3" width="12" height="12" fill="#000"/><rect x="320.6" y="57.8" width="12" height="12" fill="#000"/><rect x="338.66" y="72.9" width="12" height="12" fill="#000"/><rect x="356.72" y="84.1" width="12" height="12" fill="#000"/><rect x="374.78" y="84.9" width="12" height="12" fill="#000"/><rect x="392.84" y="89.5" width="12" height="12" fill="#000"/><rect x="410.9" y="96.4" width="12" height="12" fill="#000"/><rect x="428.96" y="104.3" width="12" height="12" fill="#000"/><rect x="447.02" y="106.6" width="12" height="12" fill="#000"/><rect x="465.08" y="110.5" width="12" height="12" fill="#000"/><rect x="483.14" y="115.6" width="12" height="12" fill="#000"/><rect x="501.2" y="123.8" width="12" height="12" fill="#000"/><rect x="519.26" y="128.8" width="12" height="12" fill="#000"/><rect x="537.32" y="140.3" width="12" height="12" fill="#000"/><rect x="555.38" y="141.1" width="12" height="12" fill="#000"/><rect x="573.44" y="128.8" width="12" height="12" fill="#000"/><rect x="591.5" y="118.9" width="12" height="12" fill="#000"/><rect x="609.56" y="117" width="12" height="12" fill="#000"/><rect x="627.62" y="117.4" width="12" height="12" fill="#000"/><rect x="645.68" y="138.8" width="12" height="12" fill="#000"/><rect x="663.74" y="151.9" width="12" height="12" fill="#000"/><rect x="681.8" y="128.9" width="12" height="12" fill="#000"/><rect x="699.86" y="122.3" width="12" height="12" fill="#000"/><rect x="717.92" y="133.3" width="12" height="12" fill="#000"/><rect x="735.98" y="159" width="12" height="12" fill="#000"/><rect x="754.04" y="189.7" width="12" height="12" fill="#000"/><rect x="772.1" y="220.6" width="12" height="12" fill="#000"/><rect x="790.16" y="211.7" width="12" height="12" fill="#000"/><rect x="808.22" y="206.2" width="12" height="12" fill="#000"/><rect x="826.28" y="228.2" width="12" height="12" fill="#000"/><rect x="844.34" y="244.3" width="12" height="12" fill="#000"/><rect x="862.4" y="282.6" width="12" height="12" fill="#000"/><rect x="880.46" y="322.8" width="12" height="12" fill="#000"/><rect x="898.52" y="372.6" width="12" height="12" fill="#000"/></g>
<g clip-path="url(#cb)"><g fill="none" stroke="#00ec00" stroke-width="3.2" stroke-dasharray="11.5 15.3" stroke-linecap="round"><path d="M146 516.2L164.06 516.2"/><path d="M164.06 516.2L182.12 516.2"/><path d="M182.12 516.2L200.18 516.2"/><path d="M200.18 516.2L218.24 516.2"/><path d="M218.24 516.2L236.3 516.2"/><path d="M236.3 516.2L254.36 516.2"/><path d="M254.36 516.2L272.42 516.2"/><path d="M272.42 516.2L290.48 516.2"/><path d="M290.48 516.2L308.54 516.2"/><path d="M308.54 516.2L326.6 516.2"/><path d="M326.6 516.2L344.66 516.2"/><path d="M344.66 516.2L362.72 516.2"/><path d="M362.72 516.2L380.78 516.2"/><path d="M380.78 516.2L398.84 516.2"/><path d="M398.84 516.2L416.9 516.2"/><path d="M416.9 516.2L434.96 519"/><path d="M434.96 519L453.02 523.5"/><path d="M453.02 523.5L471.08 523.5"/><path d="M471.08 523.5L489.14 523.5"/><path d="M489.14 523.5L507.2 523.5"/><path d="M507.2 523.5L525.26 523.5"/><path d="M525.26 523.5L543.32 523.5"/><path d="M543.32 523.5L561.38 523.5"/><path d="M561.38 523.5L579.44 595.8"/><path d="M579.44 595.8L597.5 597"/><path d="M597.5 597L615.56 597.8"/><path d="M615.56 597.8L633.62 598.2"/><path d="M633.62 598.2L651.68 598.3"/><path d="M651.68 598.3L669.74 598.5"/><path d="M669.74 598.5L687.8 598.7"/><path d="M687.8 598.7L705.86 599.3"/><path d="M705.86 599.3L723.92 599.9"/><path d="M723.92 599.9L741.98 600.4"/><path d="M741.98 600.4L760.04 601.4"/><path d="M760.04 601.4L778.1 602"/><path d="M778.1 602L796.16 603.1"/><path d="M796.16 603.1L814.22 608.7"/><path d="M814.22 608.7L832.28 614.3"/><path d="M832.28 614.3L850.34 621"/><path d="M850.34 621L868.4 631.1"/><path d="M868.4 631.1L886.46 642.2"/><path d="M886.46 642.2L904.52 657.2"/></g><circle cx="146" cy="516.2" r="4" fill="#00ec00"/><circle cx="164.06" cy="516.2" r="4" fill="#00ec00"/><circle cx="182.12" cy="516.2" r="4" fill="#00ec00"/><circle cx="200.18" cy="516.2" r="4" fill="#00ec00"/><circle cx="218.24" cy="516.2" r="4" fill="#00ec00"/><circle cx="236.3" cy="516.2" r="4" fill="#00ec00"/><circle cx="254.36" cy="516.2" r="4" fill="#00ec00"/><circle cx="272.42" cy="516.2" r="4" fill="#00ec00"/><circle cx="290.48" cy="516.2" r="4" fill="#00ec00"/><circle cx="308.54" cy="516.2" r="4" fill="#00ec00"/><circle cx="326.6" cy="516.2" r="4" fill="#00ec00"/><circle cx="344.66" cy="516.2" r="4" fill="#00ec00"/><circle cx="362.72" cy="516.2" r="4" fill="#00ec00"/><circle cx="380.78" cy="516.2" r="4" fill="#00ec00"/><circle cx="398.84" cy="516.2" r="4" fill="#00ec00"/><circle cx="416.9" cy="516.2" r="4" fill="#00ec00"/><circle cx="434.96" cy="519" r="4" fill="#00ec00"/><circle cx="453.02" cy="523.5" r="4" fill="#00ec00"/><circle cx="471.08" cy="523.5" r="4" fill="#00ec00"/><circle cx="489.14" cy="523.5" r="4" fill="#00ec00"/><circle cx="507.2" cy="523.5" r="4" fill="#00ec00"/><circle cx="525.26" cy="523.5" r="4" fill="#00ec00"/><circle cx="543.32" cy="523.5" r="4" fill="#00ec00"/><circle cx="561.38" cy="523.5" r="4" fill="#00ec00"/><circle cx="579.44" cy="595.8" r="4" fill="#00ec00"/><circle cx="597.5" cy="597" r="4" fill="#00ec00"/><circle cx="615.56" cy="597.8" r="4" fill="#00ec00"/><circle cx="633.62" cy="598.2" r="4" fill="#00ec00"/><circle cx="651.68" cy="598.3" r="4" fill="#00ec00"/><circle cx="669.74" cy="598.5" r="4" fill="#00ec00"/><circle cx="687.8" cy="598.7" r="4" fill="#00ec00"/><circle cx="705.86" cy="599.3" r="4" fill="#00ec00"/><circle cx="723.92" cy="599.9" r="4" fill="#00ec00"/><circle cx="741.98" cy="600.4" r="4" fill="#00ec00"/><circle cx="760.04" cy="601.4" r="4" fill="#00ec00"/><circle cx="778.1" cy="602" r="4" fill="#00ec00"/><circle cx="796.16" cy="603.1" r="4" fill="#00ec00"/><circle cx="814.22" cy="608.7" r="4" fill="#00ec00"/><circle cx="832.28" cy="614.3" r="4" fill="#00ec00"/><circle cx="850.34" cy="621" r="4" fill="#00ec00"/><circle cx="868.4" cy="631.1" r="4" fill="#00ec00"/><circle cx="886.46" cy="642.2" r="4" fill="#00ec00"/><circle cx="904.52" cy="657.2" r="4" fill="#00ec00"/></g>
<g clip-path="url(#cb)"><g fill="none" stroke="#808080" stroke-width="3.2" stroke-dasharray="11.5 15.3" stroke-linecap="round"><path d="M146 516.2L164.06 516.2"/><path d="M164.06 516.2L182.12 516.2"/><path d="M182.12 516.2L200.18 516.2"/><path d="M200.18 516.2L218.24 516.2"/><path d="M218.24 516.2L236.3 516.2"/><path d="M236.3 516.2L254.36 516.2"/><path d="M254.36 516.2L272.42 516.2"/><path d="M272.42 516.2L290.48 516.2"/><path d="M290.48 516.2L308.54 516.2"/><path d="M308.54 516.2L326.6 516.2"/><path d="M326.6 516.2L344.66 516.2"/><path d="M344.66 516.2L362.72 516.2"/><path d="M362.72 516.2L380.78 516.2"/><path d="M380.78 516.2L398.84 516.2"/><path d="M398.84 516.2L416.9 516.2"/><path d="M416.9 516.2L434.96 516.2"/><path d="M434.96 516.2L453.02 516.2"/><path d="M453.02 516.2L471.08 516.2"/><path d="M471.08 516.2L489.14 516.2"/><path d="M489.14 516.2L507.2 516.2"/><path d="M507.2 516.2L525.26 516"/><path d="M525.26 516L543.32 517.8"/><path d="M543.32 517.8L561.38 514.1"/><path d="M561.38 514.1L579.44 519"/><path d="M579.44 519L597.5 523.5"/><path d="M597.5 523.5L615.56 524"/><path d="M615.56 524L633.62 495.4"/><path d="M633.62 495.4L651.68 499.4"/><path d="M651.68 499.4L669.74 589.9"/><path d="M669.74 589.9L687.8 506.6"/><path d="M687.8 506.6L705.86 526.1"/><path d="M705.86 526.1L723.92 596"/><path d="M723.92 596L741.98 509.7"/><path d="M741.98 509.7L760.04 533.3"/><path d="M760.04 533.3L778.1 595"/><path d="M778.1 595L796.16 482.5"/><path d="M796.16 482.5L814.22 426.2"/><path d="M814.22 426.2L832.28 570.7"/><path d="M832.28 570.7L850.34 576.3"/><path d="M850.34 576.3L868.4 630"/><path d="M868.4 630L886.46 643.4"/><path d="M886.46 643.4L904.52 660"/></g><circle cx="146" cy="516.2" r="4" fill="#808080"/><circle cx="164.06" cy="516.2" r="4" fill="#808080"/><circle cx="182.12" cy="516.2" r="4" fill="#808080"/><circle cx="200.18" cy="516.2" r="4" fill="#808080"/><circle cx="218.24" cy="516.2" r="4" fill="#808080"/><circle cx="236.3" cy="516.2" r="4" fill="#808080"/><circle cx="254.36" cy="516.2" r="4" fill="#808080"/><circle cx="272.42" cy="516.2" r="4" fill="#808080"/><circle cx="290.48" cy="516.2" r="4" fill="#808080"/><circle cx="308.54" cy="516.2" r="4" fill="#808080"/><circle cx="326.6" cy="516.2" r="4" fill="#808080"/><circle cx="344.66" cy="516.2" r="4" fill="#808080"/><circle cx="362.72" cy="516.2" r="4" fill="#808080"/><circle cx="380.78" cy="516.2" r="4" fill="#808080"/><circle cx="398.84" cy="516.2" r="4" fill="#808080"/><circle cx="416.9" cy="516.2" r="4" fill="#808080"/><circle cx="434.96" cy="516.2" r="4" fill="#808080"/><circle cx="453.02" cy="516.2" r="4" fill="#808080"/><circle cx="471.08" cy="516.2" r="4" fill="#808080"/><circle cx="489.14" cy="516.2" r="4" fill="#808080"/><circle cx="507.2" cy="516.2" r="4" fill="#808080"/><circle cx="525.26" cy="516" r="4" fill="#808080"/><circle cx="543.32" cy="517.8" r="4" fill="#808080"/><circle cx="561.38" cy="514.1" r="4" fill="#808080"/><circle cx="579.44" cy="519" r="4" fill="#808080"/><circle cx="597.5" cy="523.5" r="4" fill="#808080"/><circle cx="615.56" cy="524" r="4" fill="#808080"/><circle cx="633.62" cy="495.4" r="4" fill="#808080"/><circle cx="651.68" cy="499.4" r="4" fill="#808080"/><circle cx="669.74" cy="589.9" r="4" fill="#808080"/><circle cx="687.8" cy="506.6" r="4" fill="#808080"/><circle cx="705.86" cy="526.1" r="4" fill="#808080"/><circle cx="723.92" cy="596" r="4" fill="#808080"/><circle cx="741.98" cy="509.7" r="4" fill="#808080"/><circle cx="760.04" cy="533.3" r="4" fill="#808080"/><circle cx="778.1" cy="595" r="4" fill="#808080"/><circle cx="796.16" cy="482.5" r="4" fill="#808080"/><circle cx="814.22" cy="426.2" r="4" fill="#808080"/><circle cx="832.28" cy="570.7" r="4" fill="#808080"/><circle cx="850.34" cy="576.3" r="4" fill="#808080"/><circle cx="868.4" cy="630" r="4" fill="#808080"/><circle cx="886.46" cy="643.4" r="4" fill="#808080"/><circle cx="904.52" cy="660" r="4" fill="#808080"/></g>
<g clip-path="url(#cb)"><polyline points="146,510.5 164.06,510.5 182.12,510.5 200.18,510.5 218.24,510.5 236.3,518.5 254.36,518.5 272.42,518.5 290.48,518.5 308.54,518.5 326.6,518.5 344.66,518.5 362.72,518.5 380.78,518.5 398.84,518.5 416.9,535.1 434.96,535.1 453.02,535.1 471.08,535.1 489.14,535.1 507.2,535.1 525.26,535.1 543.32,591.9 561.38,592.6 579.44,593.6 597.5,594.8 615.56,595.6 633.62,596 651.68,596.1 669.74,596.3 687.8,596.5 705.86,597.1 723.92,597.7 741.98,598.2 760.04,599.2 778.1,599.8 796.16,600.9 814.22,606.5 832.28,612.1 850.34,618.8 868.4,628.9 886.46,640 904.52,655" fill="none" stroke="#0000ff" stroke-width="2.8" stroke-linejoin="round"/><rect x="142.5" y="507" width="7" height="7" fill="#0000ff"/><rect x="160.56" y="507" width="7" height="7" fill="#0000ff"/><rect x="178.62" y="507" width="7" height="7" fill="#0000ff"/><rect x="196.68" y="507" width="7" height="7" fill="#0000ff"/><rect x="214.74" y="507" width="7" height="7" fill="#0000ff"/><rect x="232.8" y="515" width="7" height="7" fill="#0000ff"/><rect x="250.86" y="515" width="7" height="7" fill="#0000ff"/><rect x="268.92" y="515" width="7" height="7" fill="#0000ff"/><rect x="286.98" y="515" width="7" height="7" fill="#0000ff"/><rect x="305.04" y="515" width="7" height="7" fill="#0000ff"/><rect x="323.1" y="515" width="7" height="7" fill="#0000ff"/><rect x="341.16" y="515" width="7" height="7" fill="#0000ff"/><rect x="359.22" y="515" width="7" height="7" fill="#0000ff"/><rect x="377.28" y="515" width="7" height="7" fill="#0000ff"/><rect x="395.34" y="515" width="7" height="7" fill="#0000ff"/><rect x="413.4" y="531.6" width="7" height="7" fill="#0000ff"/><rect x="431.46" y="531.6" width="7" height="7" fill="#0000ff"/><rect x="449.52" y="531.6" width="7" height="7" fill="#0000ff"/><rect x="467.58" y="531.6" width="7" height="7" fill="#0000ff"/><rect x="485.64" y="531.6" width="7" height="7" fill="#0000ff"/><rect x="503.7" y="531.6" width="7" height="7" fill="#0000ff"/><rect x="521.76" y="531.6" width="7" height="7" fill="#0000ff"/><rect x="539.82" y="588.4" width="7" height="7" fill="#0000ff"/><rect x="557.88" y="589.1" width="7" height="7" fill="#0000ff"/><rect x="575.94" y="590.1" width="7" height="7" fill="#0000ff"/><rect x="594" y="591.3" width="7" height="7" fill="#0000ff"/><rect x="612.06" y="592.1" width="7" height="7" fill="#0000ff"/><rect x="630.12" y="592.5" width="7" height="7" fill="#0000ff"/><rect x="648.18" y="592.6" width="7" height="7" fill="#0000ff"/><rect x="666.24" y="592.8" width="7" height="7" fill="#0000ff"/><rect x="684.3" y="593" width="7" height="7" fill="#0000ff"/><rect x="702.36" y="593.6" width="7" height="7" fill="#0000ff"/><rect x="720.42" y="594.2" width="7" height="7" fill="#0000ff"/><rect x="738.48" y="594.7" width="7" height="7" fill="#0000ff"/><rect x="756.54" y="595.7" width="7" height="7" fill="#0000ff"/><rect x="774.6" y="596.3" width="7" height="7" fill="#0000ff"/><rect x="792.66" y="597.4" width="7" height="7" fill="#0000ff"/><rect x="810.72" y="603" width="7" height="7" fill="#0000ff"/><rect x="828.78" y="608.6" width="7" height="7" fill="#0000ff"/><rect x="846.84" y="615.3" width="7" height="7" fill="#0000ff"/><rect x="864.9" y="625.4" width="7" height="7" fill="#0000ff"/><rect x="882.96" y="636.5" width="7" height="7" fill="#0000ff"/><rect x="901.02" y="651.5" width="7" height="7" fill="#0000ff"/></g>
<g clip-path="url(#cb)"><polyline points="146,511.1 164.06,511.1 182.12,511.1 200.18,511.1 218.24,511.1 236.3,511.1 254.36,511.1 272.42,511.1 290.48,511.1 308.54,511.1 326.6,508.9 344.66,506.6 362.72,508.2 380.78,513.2 398.84,517 416.9,519 434.96,518.5 453.02,518.5 471.08,519 489.14,516 507.2,517.8 525.26,531.9 543.32,529.4 561.38,506.2 579.44,494.8 597.5,503 615.56,504.3 633.62,484.5 651.68,575.5 669.74,529.2 687.8,480.8 705.86,507.6 723.92,596.5 741.98,580.6 760.04,597.1 778.1,481.2 796.16,469.7 814.22,600.9 832.28,577.4 850.34,609.8 868.4,627.8 886.46,640.1 904.52,662" fill="none" stroke="#ff0000" stroke-width="2.8" stroke-linejoin="round"/><rect x="142.5" y="507.6" width="7" height="7" fill="#ff0000"/><rect x="160.56" y="507.6" width="7" height="7" fill="#ff0000"/><rect x="178.62" y="507.6" width="7" height="7" fill="#ff0000"/><rect x="196.68" y="507.6" width="7" height="7" fill="#ff0000"/><rect x="214.74" y="507.6" width="7" height="7" fill="#ff0000"/><rect x="232.8" y="507.6" width="7" height="7" fill="#ff0000"/><rect x="250.86" y="507.6" width="7" height="7" fill="#ff0000"/><rect x="268.92" y="507.6" width="7" height="7" fill="#ff0000"/><rect x="286.98" y="507.6" width="7" height="7" fill="#ff0000"/><rect x="305.04" y="507.6" width="7" height="7" fill="#ff0000"/><rect x="323.1" y="505.4" width="7" height="7" fill="#ff0000"/><rect x="341.16" y="503.1" width="7" height="7" fill="#ff0000"/><rect x="359.22" y="504.7" width="7" height="7" fill="#ff0000"/><rect x="377.28" y="509.7" width="7" height="7" fill="#ff0000"/><rect x="395.34" y="513.5" width="7" height="7" fill="#ff0000"/><rect x="413.4" y="515.5" width="7" height="7" fill="#ff0000"/><rect x="431.46" y="515" width="7" height="7" fill="#ff0000"/><rect x="449.52" y="515" width="7" height="7" fill="#ff0000"/><rect x="467.58" y="515.5" width="7" height="7" fill="#ff0000"/><rect x="485.64" y="512.5" width="7" height="7" fill="#ff0000"/><rect x="503.7" y="514.3" width="7" height="7" fill="#ff0000"/><rect x="521.76" y="528.4" width="7" height="7" fill="#ff0000"/><rect x="539.82" y="525.9" width="7" height="7" fill="#ff0000"/><rect x="557.88" y="502.7" width="7" height="7" fill="#ff0000"/><rect x="575.94" y="491.3" width="7" height="7" fill="#ff0000"/><rect x="594" y="499.5" width="7" height="7" fill="#ff0000"/><rect x="612.06" y="500.8" width="7" height="7" fill="#ff0000"/><rect x="630.12" y="481" width="7" height="7" fill="#ff0000"/><rect x="648.18" y="572" width="7" height="7" fill="#ff0000"/><rect x="666.24" y="525.7" width="7" height="7" fill="#ff0000"/><rect x="684.3" y="477.3" width="7" height="7" fill="#ff0000"/><rect x="702.36" y="504.1" width="7" height="7" fill="#ff0000"/><rect x="720.42" y="593" width="7" height="7" fill="#ff0000"/><rect x="738.48" y="577.1" width="7" height="7" fill="#ff0000"/><rect x="756.54" y="593.6" width="7" height="7" fill="#ff0000"/><rect x="774.6" y="477.7" width="7" height="7" fill="#ff0000"/><rect x="792.66" y="466.2" width="7" height="7" fill="#ff0000"/><rect x="810.72" y="597.4" width="7" height="7" fill="#ff0000"/><rect x="828.78" y="573.9" width="7" height="7" fill="#ff0000"/><rect x="846.84" y="606.3" width="7" height="7" fill="#ff0000"/><rect x="864.9" y="624.3" width="7" height="7" fill="#ff0000"/><rect x="882.96" y="636.6" width="7" height="7" fill="#ff0000"/><rect x="901.02" y="658.5" width="7" height="7" fill="#ff0000"/></g>
<g font-family='"Liberation Sans", sans-serif' font-size="29" fill="#000">
<path d="M212 218.5H223.5M238.5 218.5H250.5M265.5 218.5H277.5" stroke="#00ec00" stroke-width="3.2" stroke-linecap="round"/>
<circle cx="244.7" cy="218.5" r="4" fill="#00ec00"/>
<text x="299.5" y="227.8">Nonrelativistic, no resonances</text>
<path d="M212 254H223.5M238.5 254H250.5M265.5 254H277.5" stroke="#808080" stroke-width="3.2" stroke-linecap="round"/>
<circle cx="244.7" cy="254" r="4" fill="#808080"/>
<text x="299.5" y="263.3">Nonrelativistic, resonances</text>
<path d="M210.5 290H279" stroke="#0000ff" stroke-width="2.8"/>
<rect x="241.2" y="286.5" width="7" height="7" fill="#0000ff"/>
<text x="299.5" y="299.3">Relativistic, no resonances</text>
<path d="M210.5 326.1H279" stroke="#ff0000" stroke-width="2.8"/>
<rect x="241.2" y="322.6" width="7" height="7" fill="#ff0000"/>
<text x="299.5" y="335.4">Relativistic, resonances</text>
<path d="M210.5 362.2H279" stroke="#000" stroke-width="2.8"/>
<rect x="238.95" y="356.45" width="11.5" height="11.5" fill="#000"/>
<text x="299.5" y="371.5">Experiment</text>
<text x="738" y="70.9">5.5 keV</text>
</g>
<g stroke="#000" fill="none" stroke-width="2.2" stroke-linecap="round" stroke-linejoin="round"><rect x="146" y="13.4" width="812.7" height="376.1" stroke-width="2.7"/></g>
<g stroke="#000" fill="none" stroke-width="2.2" stroke-linecap="round" stroke-linejoin="round"><rect x="146" y="423.3" width="812.7" height="225.3" stroke-width="2.7"/></g>
<g stroke="#000" fill="none" stroke-width="2.2" stroke-linecap="round" stroke-linejoin="round"><rect x="146" y="684" width="812.7" height="311" stroke-width="2.7"/></g>
<rect x="146.7" y="817.5" width="1.2" height="176.2" fill="#fff"/>
<path d="M146 839.5h12.2M146 917.25h6.4" stroke="#000" stroke-width="2.2" stroke-linecap="round"/>
<g stroke="rgba(110,185,110,0.8)" stroke-width="2"><path d="M146.5 832.8L157.5 835.3M146.5 841.4L157.5 843.9M146.5 861.5L157.5 864.2"/></g>
<g font-family='"Liberation Sans", sans-serif' font-size="30.5" fill="#000">
<text x="146" y="1034.8" text-anchor="middle">0</text>
<text x="236.3" y="1034.8" text-anchor="middle">5</text>
<text x="326.6" y="1034.8" text-anchor="middle">10</text>
<text x="416.9" y="1034.8" text-anchor="middle">15</text>
<text x="507.2" y="1034.8" text-anchor="middle">20</text>
<text x="597.5" y="1034.8" text-anchor="middle">25</text>
<text x="687.8" y="1034.8" text-anchor="middle">30</text>
<text x="778.1" y="1034.8" text-anchor="middle">35</text>
<text x="868.4" y="1034.8" text-anchor="middle">40</text>
<text x="958.7" y="1034.8" text-anchor="middle">45</text>
<text x="132.3" y="61.6" text-anchor="end">10<tspan dy="-12.7" font-size="20.5">&#8211;1</tspan></text>
<text x="132.3" y="175.6" text-anchor="end">10<tspan dy="-12.7" font-size="20.5">&#8211;2</tspan></text>
<text x="132.3" y="290.1" text-anchor="end">10<tspan dy="-12.7" font-size="20.5">&#8211;3</tspan></text>
<text x="132.3" y="405.1" text-anchor="end">10<tspan dy="-12.7" font-size="20.5">&#8211;4</tspan></text>
<text x="132.3" y="439.4" text-anchor="end">10<tspan dy="-12.7" font-size="20.5">0</tspan></text>
<text x="132.3" y="551.8" text-anchor="end">10<tspan dy="-12.7" font-size="20.5">&#8211;1</tspan></text>
<text x="132.3" y="664.3" text-anchor="end">10<tspan dy="-12.7" font-size="20.5">&#8211;2</tspan></text>
<text x="131.8" y="694.2" text-anchor="end">0</text>
<text x="97.3" y="848.6">&#8211;1</text>
<text x="132" y="1004.3" text-anchor="end" font-size="33.5">&#8211;2</text>
</g>
<g font-family='"Liberation Sans", sans-serif' font-size="29.3" fill="#000" text-anchor="middle">
<text transform="translate(22.4 201.5) rotate(-90)">Relative ion yield</text>
<text transform="translate(21.9 536) rotate(-90)">Cross section</text>
<text transform="translate(57.6 537.2) rotate(-90)">(Mb)</text>
<text transform="translate(22 841) rotate(-90)">Binding energy</text>
<text transform="translate(57.6 843.6) rotate(-90)">(keV)</text>
<text x="548.6" y="1088.6">Xenon charge state</text>
</g>
<g font-family='"Liberation Sans", sans-serif' font-size="42.5" font-weight="bold" fill="#000">
<text x="-0.6" y="22.6">a</text><text x="-0.95" y="424.9">b</text><text x="-1.06" y="700.3">c</text>
</g>
</svg>
</body></html>
